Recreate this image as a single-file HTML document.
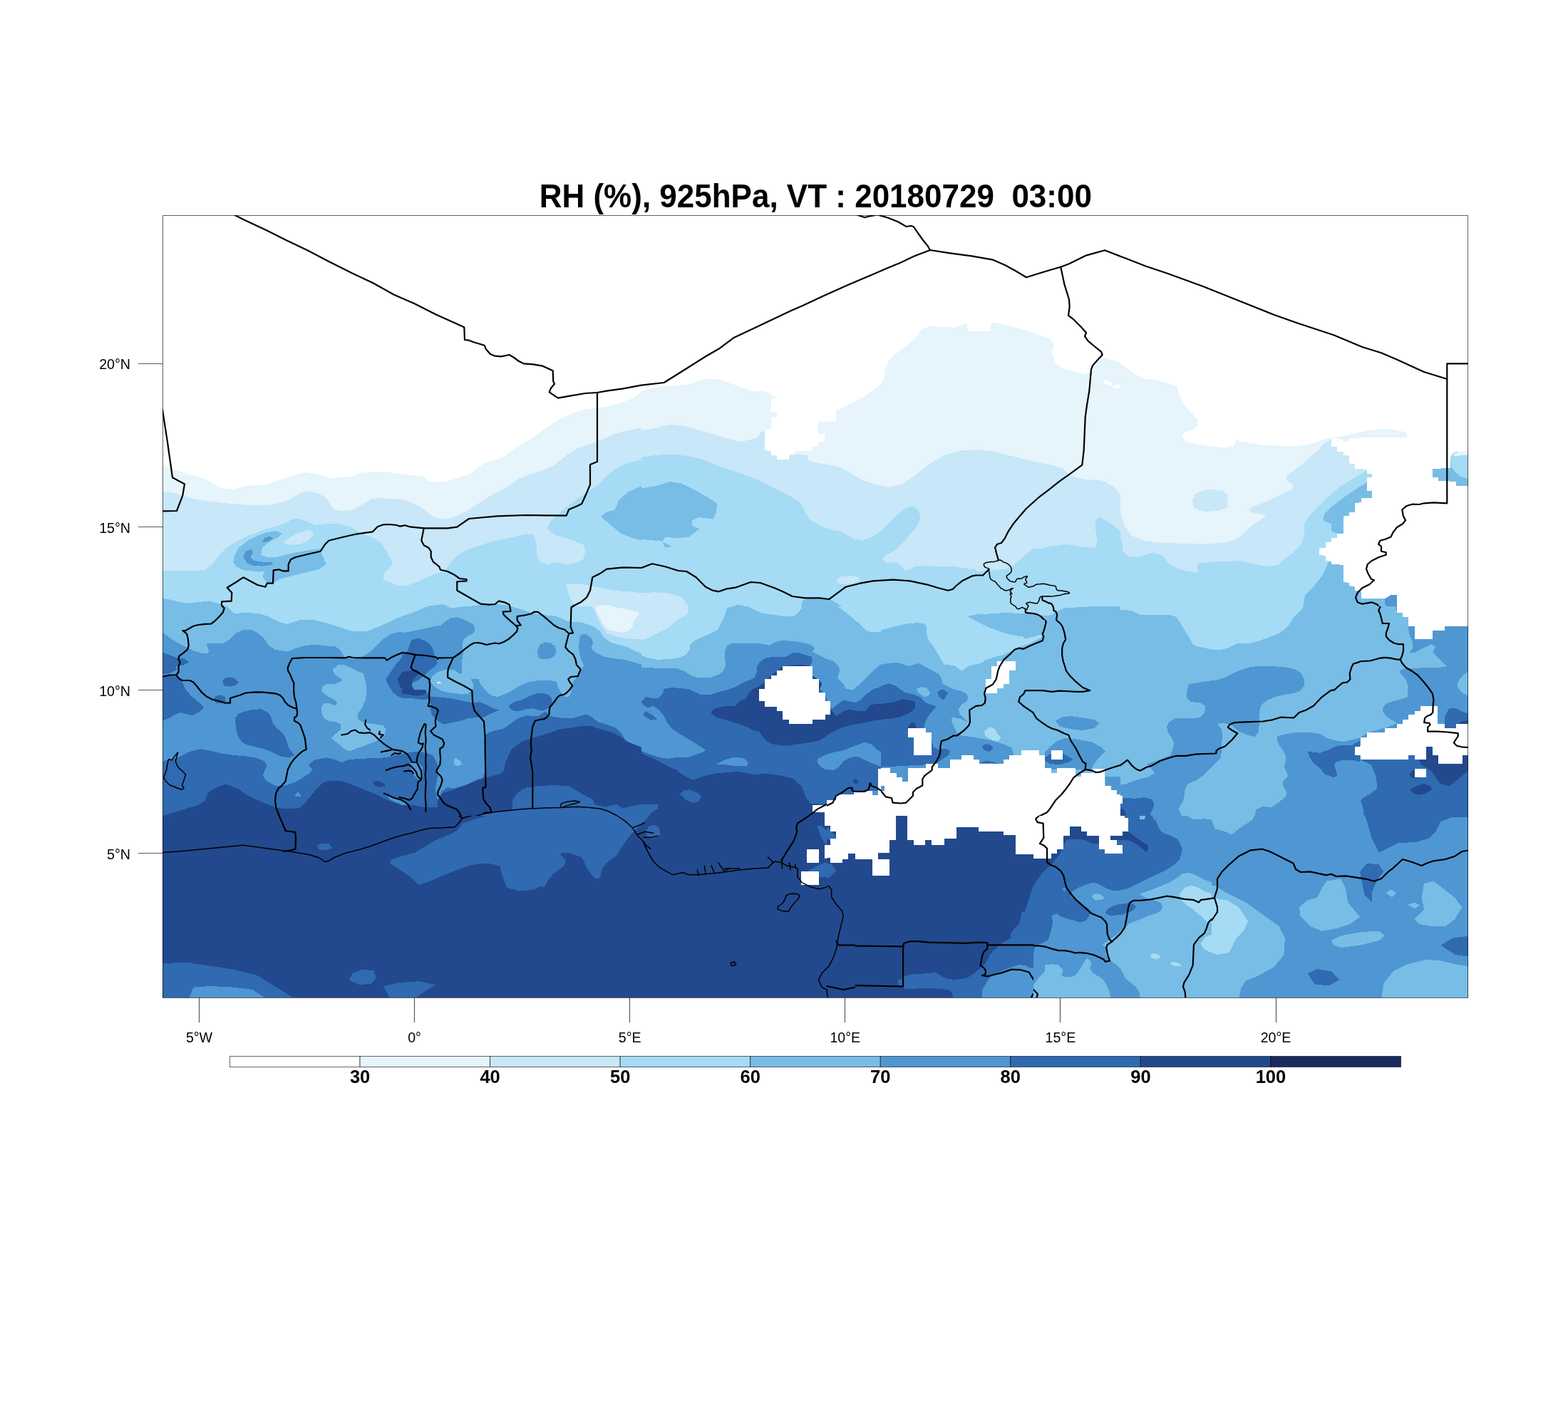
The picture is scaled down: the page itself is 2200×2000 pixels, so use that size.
<!DOCTYPE html>
<html><head><meta charset="utf-8"><style>
html,body{margin:0;padding:0;background:#fff;}
svg{display:block;}
text{font-family:"Liberation Sans",Arial,sans-serif;fill:#000;}
.yl{font-size:19.6px;text-anchor:end;}
.xl{font-size:19.6px;text-anchor:middle;}
.cl{font-size:25.5px;font-weight:bold;text-anchor:middle;}
.ti{font-size:44px;font-weight:bold;text-anchor:middle;white-space:pre;}
.tk{stroke:#000;stroke-opacity:0.65;stroke-width:1.2;}
.bd polyline{fill:none;stroke:#000;stroke-width:2.2;stroke-linejoin:round;stroke-linecap:round;}
.bd polyline.lk{stroke-width:2.1;}
.bd polyline.t{stroke-width:1.5;}
</style></head><body>
<svg width="2200" height="2000" viewBox="0 0 2200 2000" xmlns="http://www.w3.org/2000/svg">
<defs><clipPath id="c0"><rect x="228" y="302" width="672" height="549"/></clipPath><clipPath id="l0"><path clip-rule="evenodd" d="M228,302H900V851H228Z"/></clipPath><clipPath id="c1"><rect x="900" y="302" width="672" height="549"/></clipPath><clipPath id="l1"><path clip-rule="evenodd" d="M900,302H1572V851H900ZM1370,770H1510V851H1370Z"/></clipPath><clipPath id="c2"><rect x="1572" y="302" width="488" height="549"/></clipPath><clipPath id="l2"><path clip-rule="evenodd" d="M1572,302H2060V851H1572Z"/></clipPath><clipPath id="c3"><rect x="228" y="1145" width="672" height="255"/></clipPath><clipPath id="l3"><path clip-rule="evenodd" d="M228,1145H900V1400H228ZM760,1145H900V1300H760Z"/></clipPath><clipPath id="c4"><rect x="228" y="851" width="336" height="294"/></clipPath><clipPath id="l4"><path clip-rule="evenodd" d="M228,851H564V1145H228Z"/></clipPath><clipPath id="c5"><rect x="564" y="851" width="336" height="294"/></clipPath><clipPath id="l5"><path clip-rule="evenodd" d="M564,851H900V1145H564ZM760,1080H900V1145H760Z"/></clipPath><clipPath id="c6"><rect x="900" y="1145" width="672" height="255"/></clipPath><clipPath id="l6"><path clip-rule="evenodd" d="M900,1145H1572V1400H900ZM1450,1150H1572V1400H1450ZM1200,1280H1450V1400H1200ZM900,1145H1160V1300H900Z"/></clipPath><clipPath id="c7"><rect x="900" y="851" width="336" height="294"/></clipPath><clipPath id="l7"><path clip-rule="evenodd" d="M900,851H1236V1145H900ZM900,1080H1160V1145H900Z"/></clipPath><clipPath id="c8"><rect x="1236" y="851" width="336" height="294"/></clipPath><clipPath id="l8"><path clip-rule="evenodd" d="M1236,851H1572V1145H1236ZM1370,851H1510V870H1370Z"/></clipPath><clipPath id="c9"><rect x="1572" y="1145" width="488" height="255"/></clipPath><clipPath id="l9"><path clip-rule="evenodd" d="M1572,1145H2060V1400H1572ZM1572,1150H1700V1400H1572Z"/></clipPath><clipPath id="c10"><rect x="1572" y="851" width="336" height="294"/></clipPath><clipPath id="l10"><path clip-rule="evenodd" d="M1572,851H1908V1145H1572Z"/></clipPath><clipPath id="c11"><rect x="1908" y="851" width="152" height="294"/></clipPath><clipPath id="l11"><path clip-rule="evenodd" d="M1908,851H2060V1145H1908Z"/></clipPath><clipPath id="c12"><rect x="1450" y="1150" width="250" height="250"/></clipPath><clipPath id="l12"><path clip-rule="evenodd" d="M1450,1150H1700V1400H1450Z"/></clipPath><clipPath id="c13"><rect x="1200" y="1280" width="250" height="120"/></clipPath><clipPath id="l13"><path clip-rule="evenodd" d="M1200,1280H1450V1400H1200Z"/></clipPath><clipPath id="c14"><rect x="440" y="940" width="200" height="200"/></clipPath><clipPath id="l14"><path clip-rule="evenodd" d="M440,940H640V1140H440Z"/></clipPath><clipPath id="c15"><rect x="760" y="1080" width="400" height="220"/></clipPath><clipPath id="l15"><path clip-rule="evenodd" d="M760,1080H1160V1300H760Z"/></clipPath><clipPath id="c16"><rect x="1370" y="770" width="140" height="100"/></clipPath><clipPath id="l16"><path clip-rule="evenodd" d="M1370,770H1510V870H1370Z"/></clipPath></defs>
<rect width="2200" height="2000" fill="#fff"/>
<g shape-rendering="crispEdges"><g clip-path="url(#c0)"><polygon fill="#ffffff" points="211.3,285.3 928,285.3 928,935.3 211.3,935.3"/><polygon fill="#e6f4fb" points="211.3,653.7 228,653.7 241.3,658 254.7,662 268,667 286.3,671.3 298,678.7 311.3,685.3 324.7,687 341.3,683 354.7,681.3 371.3,680.3 388,675.3 408,668.7 428,662.7 444.7,665.3 461.3,670.7 481.3,670.3 494.7,668.7 504.7,663.7 521.3,662 544.7,662.7 561.3,665.3 578,667 598,670 599.7,675.3 614.7,677.3 628,675.3 641.3,671.3 658,666 668,658 681.3,649.3 694.7,645.3 708,640.7 721.3,630.3 738,620.3 751.3,612 764.7,602 781.3,590.3 794.7,583.7 811.3,577 828,573.7 848,571.3 868,567 888,558.7 900,550.3 928,535.3 928,935.3 211.3,935.3"/><polygon fill="#c8e7f8" points="211.3,691.3 228,691.3 241.3,691.3 254.7,694.7 264.7,698.7 274.7,700.7 294.7,703.7 314.7,706 334.7,708 361.3,709.3 378,708.7 394.7,705.3 408,700.3 421.3,692 431.3,689.3 444.7,692 458,698.7 463,707 468,715.3 481.3,717 494.7,715.3 508,708.7 521.3,700.3 534.7,699.3 554.7,700.3 568,702 581.3,707 594.7,715.3 608,725.3 621.3,728.7 631.3,728 644.7,722 661.3,713.7 678,702 694.7,692 711.3,683.7 728,672 744.7,665.3 761.3,660.3 778,652.7 794.7,638.7 811.3,628.7 831.3,622 848,615.3 868,607 884.7,603.7 900,600.3 928,598.7 928,935.3 211.3,935.3"/><polygon fill="#a5dbf5" points="211.3,802 248,801 268,801 286.3,800.3 298,792 308,778.7 318,768.7 331.3,760.3 348,752 361.3,747 374.7,742 388,738.7 401.3,733.7 409.7,728.7 419.7,728 431.3,732 441.3,737 458,735.3 474.7,734.7 491.3,739.3 501.3,746 511.3,750.3 524.7,755.3 534.7,762 543,775.3 551.3,790.3 544.7,798.7 538,805.3 538,813.7 548,817 558,822 571.3,822 584.7,817 598,810.3 611.3,805.3 621.3,802 628,795.3 634.7,787 641.3,780.3 654.7,772 674.7,765.3 694.7,758.7 714.7,755.3 734.7,750.3 748,750.3 753,762 753,778.7 758,788.7 768,792 778,788.7 794.7,792 808,790.3 818,785.3 821.3,775.3 819.7,765.3 808,760.3 794.7,755.3 778,750.3 768,742 771.3,733.7 781.3,723.7 794.7,712 809.7,700.3 824.7,690.3 841.3,678.7 854.7,665.3 868,655.3 884.7,648.7 900,645.3 928,643.7 928,935.3 211.3,935.3"/><polygon fill="#c8e7f8" points="398,760.3 408,753.7 421.3,747 431.3,743.7 438,745.3 439.7,752 433,758.7 421.3,763.7 408,764.7 398.7,762.7"/><polygon fill="#78bde6" points="328,782 334.7,768.7 348,758.7 361.3,752 374.7,747 388,745.3 396.3,748.7 391.3,753.7 378,760.3 368,768.7 366.3,778.7 374.7,782 388,782 401.3,778.7 414.7,775.3 431.3,772.7 448,770.3 458,792 448,798.7 434.7,802 414.7,807 394.7,812 384.7,817 374.7,818.7 368,808.7 371.3,802 361.3,802 341.3,800.3 331.3,795.3 327.3,788.7"/><polygon fill="#4f97d2" points="341.3,782 344.7,773.7 353,770.3 354.7,775.3 351.3,782 356.3,787 368,788.7 381.3,788.7 383,792.7 368,794.7 354.7,793.7 346.3,790.3"/><polygon fill="#4f97d2" points="368,760.3 371.3,755.3 378,752.7 383,755.3 378,759.3 369.7,761.3"/><polygon fill="#78bde6" points="928,678.7 900,682 881.3,690.3 868,702 863,715.3 851.3,718.7 843,724.7 854.7,735.3 871.3,748.7 888,755.3 900,758.7 928,762"/><polygon fill="#c8e7f8" points="794.7,820.3 811.3,818.7 828,822 844.7,825.3 861.3,828.7 881.3,830.3 900,832 928,832 928,892 900,890.3 888,892 871.3,892 854.7,888.7 841.3,883.7 828,875.3 814.7,862 804.7,848.7 798,835.3"/><polygon fill="#e6f4fb" points="836.3,850.3 851.3,848.7 868,852 884.7,855.3 891.3,865.3 886.3,873.7 874.7,875.3 854.7,873.7 846.3,865.3 839.7,857"/><polygon fill="#78bde6" points="211.3,838.7 228,839.3 261.3,846.7 294.7,843.3 314.7,850 328,860 361.3,862 394.7,865.3 428,868.7 461.3,868.7 494.7,870.3 521.3,870 544.7,868.7 561.3,868 581.3,859.3 600,850.7 620,848.3 640,853.3 660,850.7 680,848 700,848.3 714.7,850 728,855 748,858.3 768,863.3 788,870 801.3,873.3 801.3,935.3 211.3,935.3"/></g><g clip-path="url(#c1)"><polygon fill="#ffffff" points="883.3,285.3 1600,285.3 1600,935.3 883.3,935.3"/><polygon fill="#e6f4fb" points="883.3,549.3 900,549.3 913.3,545.3 933.3,542 950,541.3 966.7,539.3 983.3,533.7 996.7,531.3 1013.3,533.7 1026.7,538.7 1040,543.7 1056.7,549.3 1070,548.7 1080,552.7 1090,558.7 1116.7,557 1150,555.3 1166.7,565.3 1173.3,577 1190,568.7 1206.7,560.3 1220,551.3 1233.3,542 1240,532 1241.7,518.7 1246.7,507 1256.7,497 1270,487 1283.3,475.3 1293.3,462 1303.3,458 1320,458.7 1340,459.7 1356.7,453.7 1358.3,465.3 1390,465.3 1390.7,452 1410,456 1433.3,462 1453.3,468.7 1473.3,475.3 1478.3,483.7 1476,493.7 1480,508.7 1490,517 1506.7,521.3 1523.3,525.3 1531.7,522 1540,507 1550,502 1572,508.7 1600,512 1600,935.3 883.3,935.3"/><polygon fill="#c8e7f8" points="883.3,603.7 900,603.7 916.7,602 930,598 943.3,596 960,598 980,603.7 1000,609.3 1020,615.3 1040,620.3 1053.3,617 1063.3,613.7 1066.7,607 1073.3,603.7 1086.7,635.3 1133.3,638.7 1133.3,645.3 1140,648.7 1160,652 1176.7,655.3 1193.3,663.7 1206.7,672 1223.3,678.7 1246.7,683.7 1263.3,680.3 1280,670.3 1296.7,657 1313.3,645.3 1330,637 1350,632 1373.3,631.3 1393.3,633.7 1413.3,638.7 1433.3,643.7 1453.3,648.7 1473.3,652 1490,657 1500,666.3 1518.7,672.3 1547,674.7 1563.3,683 1571.7,694.7 1573.3,715.3 1600,768.7 1600,935.3 883.3,935.3"/><polygon fill="#a5dbf5" points="883.3,642 900,642 916.7,639.3 933.3,638 950,638 966.7,640.3 986.7,645.3 1006.7,653.7 1026.7,660.3 1046.7,667 1066.7,675.3 1086.7,685.3 1106.7,695.3 1123.3,705.3 1130,718.7 1136.7,730.3 1153.3,738.7 1166.7,743.7 1180,745.3 1190,752 1200,757 1210,758 1223.3,753.7 1236.7,745.3 1246.7,735.3 1260,722 1270,713.7 1280,710.3 1288.3,715.3 1291.7,727 1286.7,738.7 1276.7,750.3 1266.7,762 1256.7,772 1243.3,778.7 1238.3,785.3 1243.3,790.3 1256.7,788.7 1266.7,795.3 1270,802 1283.3,795.3 1300,793.7 1320,795.3 1340,795.3 1360,798.7 1380,800.3 1400,798.7 1420,795.3 1433.3,782 1453.3,772 1473.3,767 1496.7,763.7 1520,768 1536.7,768.7 1540,758.7 1536.7,742 1536.7,732 1541.7,725.3 1553.3,732 1563.3,738.7 1572,745.3 1600,748.7 1600,935.3 883.3,935.3"/><polygon fill="#78bde6" points="883.3,685.3 900,685.3 920,682 940,676 956.7,678.7 976.7,688.7 996.7,700.3 1006,707 1005,718.7 1000,728.7 981.7,726 970.7,730.3 971.7,738.7 981.7,742 966.7,753.7 950,755.3 933.3,753.7 929.3,760.3 933.3,768.7 943.3,767 926.7,759.3 900,757 883.3,757"/><polygon fill="#c8e7f8" points="1173.3,813.7 1180,809.3 1193.3,808 1205,810.3 1206.7,815.3 1196.7,818.7 1183.3,820.3 1175,818"/><polygon fill="#c8e7f8" points="883.3,832 900,832 920,831.3 940,832.7 956.7,838.7 965,848.7 965,862 956.7,872 940,882 920,890.3 900,895.3 883.3,895.3"/><polygon fill="#78bde6" points="1016.7,935.3 1020,852 1036.7,848.7 1050,852 1066.7,857 1086.7,862 1106.7,865.3 1120,862 1126.7,842 1140,840.3 1166.7,842 1183.3,852 1193.3,862 1203.3,872 1213.3,885.3 1233.3,885.3 1253.3,880.3 1273.3,875.3 1290,875.3 1300,878.7 1303.3,895.3 1310,935.3"/><polygon fill="#78bde6" points="1356.7,865.3 1373.3,862 1400,860.3 1433.3,860.3 1466.7,860.3 1486.7,857 1600,852 1600,935.3 1433.3,935.3 1433.3,895.3 1400,888.7 1373.3,875.3"/><polygon fill="#ffffff" points="1090,558.7 1081.7,560.3 1081.7,578.7 1090,579.3 1090,584.7 1081.7,585.3 1081.7,602 1073.3,603 1073.3,632 1081.7,633 1081.7,638.7 1090,638.7 1090,645.3 1106.7,645.3 1106.7,638.7 1115,638 1115,633 1140,633 1140,627 1148.3,627 1148.3,621.3 1156.7,620.3 1156.7,609.3 1148.3,608.7 1148.3,592 1173.3,591.3 1173.3,577 1166.7,565.3 1150,555.3 1116.7,555.3"/><polygon fill="#ffffff" points="1546.7,537 1550,532.7 1560,537 1559.3,541.3 1551.7,539.3"/><polygon fill="#ffffff" points="1561.7,542.7 1566.7,540.3 1600,539.3 1600,544.7 1563.3,544.7"/></g><g clip-path="url(#c2)"><polygon fill="#ffffff" points="1371.3,285.3 2088,285.3 2088,935.3 1371.3,935.3"/><polygon fill="#e6f4fb" points="1371.3,452 1391.3,452 1414.7,456 1438,461.3 1461.3,470.3 1476.3,477 1476.3,495.3 1481.3,510.3 1494.7,517 1514.7,520.3 1528,525.3 1533.3,515.3 1544.7,505.3 1554.7,502.7 1561.3,505.3 1574.7,512 1588,522 1604.7,532 1621.3,532.7 1641.3,538.7 1651.3,542 1654.7,555.3 1661.3,568.7 1671.3,578.7 1679.7,588.7 1679.7,598.7 1671.3,603.7 1661.3,607 1658,613.7 1664.7,620.3 1681.3,623.7 1701.3,627 1721.3,628 1731.3,625.3 1734.7,617 1741.3,620.3 1754.7,622 1771.3,624.7 1804.7,626 1831.3,625.3 1848,620.3 1861.3,615.3 1888,612 1904.7,608 1921.3,603.7 1938,602 1954.7,602.7 1973,607 1974.7,613.7 2088,613.7 2088,935.3 1371.3,935.3"/><polygon fill="#c8e7f8" points="1371.3,632 1388,632 1421.3,642 1454.7,648.7 1488,655.3 1506.7,665.3 1528,672 1548,675.3 1561.3,682 1569.7,692 1571.3,708.7 1573,725.3 1578,738.7 1588,752 1604.7,758.7 1621.3,761.3 1654.7,762.7 1688,763.7 1714.7,762 1734.7,757 1744.7,748.7 1754.7,738.7 1768,730.3 1776.3,723.7 1768,721.3 1754.7,718.7 1753,713.7 1764.7,708.7 1781.3,702 1798,693.7 1813,687 1814.7,680.3 1806.3,675.3 1804.7,668.7 1813,662 1824.7,653.7 1834.7,645.3 1841.3,638.7 1849.7,632 1854.7,625.3 1861.3,620.3 1868,617 2088,617 2088,935.3 1371.3,935.3"/><polygon fill="#c8e7f8" points="1673,702 1678,692 1694.7,687 1714.7,688 1723,695.3 1721.3,705.3 1723,712 1708,717 1688,718 1674.7,712"/><polygon fill="#a5dbf5" points="1371.3,822 1398,802 1421.3,785.3 1438,772 1454.7,765.3 1474.7,762.7 1488,765.3 1504.7,768.7 1521.3,772 1534.7,768.7 1541.3,762 1538,745.3 1536.3,732 1541.3,725.3 1551.3,730.3 1561.3,738.7 1569.7,750.3 1574.7,762 1574.7,772 1581.3,780.3 1594.7,782 1608,778.7 1618,775.3 1631.3,780.3 1641.3,792 1654.7,798.7 1668,802 1681.3,803.7 1679.7,795.3 1681.3,790.3 1701.3,788.7 1721.3,788 1741.3,787 1761.3,792 1781.3,795.3 1794.7,792 1801.3,785.3 1814.7,775.3 1824.7,765.3 1829.7,752 1829.7,735.3 1838,722 1848,712 1858,702 1868,693.7 1881.3,682 1898,672 1911.3,663.7 1921.3,658.7 2088,658.7 2088,935.3 1371.3,935.3"/><polygon fill="#78bde6" points="1925.3,670.3 1918,677 1901.3,687 1884.7,698.7 1869.7,710.3 1858,722 1856.3,730.3 1868,735.3 1868,745.3 1876.3,748.7 1884.7,748.7 1884.7,724.7 1893,723.7 1901.3,718.7 1909.7,705.3 1925.3,698.7"/><polygon fill="#78bde6" points="1371.3,865.3 1388,862 1421.3,858.7 1454.7,857 1484.7,853.7 1504.7,852 1538,852 1571.3,855.3 1604.7,858.7 1641.3,862 1654.7,868.7 1664.7,888.7 1671.3,902 1678,935.3 1798,935.3 1804.7,898.7 1814.7,868.7 1828,852 1831.3,835.3 1841.3,825.3 1854.7,808.7 1861.3,795.3 1864.7,787 1868,782 2088,782 2088,935.3 1371.3,935.3"/><polygon fill="#4f97d2" points="1943,848.7 1943,840.3 1951.3,835.3 1959.7,835.3 1959.7,855.3 1951.3,855.3"/><polygon fill="#ffffff" points="1868,615.3 1888,612.7 1921.3,612 1951.3,613.7 1974.7,613.7 2088,613.7 2088,878.7 2034.7,878.7 2026.3,880.3 2026.3,885.3 2009.7,885.3 2009.7,897 1984.7,897 1984.7,880.3 1976.3,878.7 1976.3,865.3 1968,865.3 1968,857 1959.7,855.3 1959.7,835.3 1951.3,835.3 1943,840.3 1909.7,840.3 1909.7,830.3 1901.3,828.7 1901.3,823.7 1893,822 1893,818 1884.7,817 1884.7,792.7 1868,792 1868,788 1859.7,787 1859.7,780.3 1851.3,778.7 1851.3,769.3 1859.7,768.7 1859.7,761.3 1868,761.3 1868,755.3 1876.3,754.7 1876.3,748.7 1884.7,748.7 1884.7,724.7 1893,723.7 1893,718.7 1901.3,718.7 1901.3,706 1909.7,705.3 1909.7,698.7 1925.3,698.7 1925.3,688.7 1918,688.7 1918,670.3 1925.3,670.3 1925.3,665.3 1918,664.7 1918,658.7 1901.3,658 1901.3,651.3 1893,650.3 1893,638.7 1884.7,638.7 1884.7,633.7 1876.3,633.7 1876.3,627 1868,627"/><polygon fill="#e6f4fb" points="1868,614.7 1888,611.3 1904.7,607.3 1921.3,603.7 1938,602 1954.7,602.7 1973,607 1951.3,610.3 1951.3,613.7 1921.3,613.7 1893,615.3 1893,619.3 1884.7,620.3 1884.7,617"/><polygon fill="#78bde6" points="2009.7,663.7 2009.7,658 2034.7,657 2034.7,640.3 2043,633.7 2088,633 2088,682 2043,682 2043,676 2030.3,675.3 2018,675.3 2018,670.3 2009.7,670.3"/><polygon fill="#a5dbf5" points="2034.7,640.3 2043,634.7 2088,634 2088,675.3 2060,672 2049.7,668.7 2041.3,662 2036.3,655.3"/><polygon fill="#e6f4fb" points="2043,634.7 2060,633 2088,633 2088,639.3 2060,638.7 2038,640.3"/></g><g clip-path="url(#c3)"><polygon fill="#22498d" points="224.7,785.7 904.7,785.7 904.7,1402.3 224.7,1402.3"/><polygon fill="#306ab1" points="548,1207.3 561.3,1202.3 581.3,1197.3 594.7,1189 611.3,1179 628,1172.3 641.3,1165.7 648.7,1155.7 668,1149 688,1144 711.3,1140.7 744.7,1139 778,1137.3 811.3,1135.7 844.7,1137.3 868,1139 904.7,1139 904.7,1202.3 881.3,1195.7 861.3,1197.3 848,1209 844.7,1222.3 838,1232.3 831.3,1225.7 824.7,1209 814.7,1200.7 801.3,1197.3 791.3,1204 794.7,1212.3 791.3,1219 781.3,1229 768,1239 748,1249 728,1250.7 711.3,1245.7 704.7,1229 701.3,1215.7 688,1212.3 671.3,1212.3 654.7,1215.7 638,1222.3 621.3,1229 601.3,1237.3 588,1242.3 578,1232.3 561.3,1220.7 548,1212.3"/><polygon fill="#306ab1" points="444.7,1187.3 449.7,1184 461.3,1184 466.3,1190.7 458,1193 448,1192.3"/><polygon fill="#306ab1" points="224.7,1352.3 261.3,1350.7 294.7,1355.7 328,1360.7 361.3,1369 371.3,1375.7 388,1385.7 414.7,1402.3 224.7,1402.3"/><polygon fill="#4f97d2" points="264.7,1402.3 271.3,1385.7 294.7,1384 328,1385.7 354.7,1389 374.7,1402.3"/><polygon fill="#306ab1" points="489.7,1375.7 494.7,1365.7 508,1360.7 524.7,1362.3 528,1372.3 521.3,1380.7 504.7,1382.3"/><polygon fill="#306ab1" points="538,1384 561.3,1379 588,1377.3 611.3,1382.3 594.7,1392.3 581.3,1402.3 548,1402.3"/></g><g clip-path="url(#c4)"><polygon fill="#78bde6" points="226.3,838.3 566.3,838.3 566.3,1146.7 226.3,1146.7"/><polygon fill="#a5dbf5" points="226.3,838.3 566.3,838.3 566.3,864.2 556.8,867.8 536.2,877.5 513.8,886.5 494.3,885.8 480.7,881.7 459.7,874.7 438.8,869.8 422.2,869.8 402.8,875.8 394.3,874 376.3,865 362.5,860.8 344.3,860.2 327.8,860.8 313.8,845.7 308,843.3 294.7,841.7 278,845 261.3,848 253,847.5 244.7,846.3 236.3,845 226.3,845"/><polygon fill="#4f97d2" points="226.3,886.7 231.3,890 241.3,897.5 251.3,903.3 261.3,908.3 271.3,913.3 283,916.7 291.3,917.5 293,913.3 289.7,903.3 298,903.3 313,903.3 323,896.7 331.3,888.3 343,883.7 353,884.2 361.3,888.3 369.7,895 378,906.7 386.3,911.7 394.7,913.3 404.7,914.2 414.7,910 428,905.8 444.7,905 461.3,906.7 471.3,907.5 478,913.3 483,921.7 494.7,925 503,923.3 511.3,920 521.3,913.3 528,906.7 538,896.7 548,890 558,887.5 566.3,886.7 566.3,1146.7 226.3,1146.7"/><polygon fill="#306ab1" points="226.3,915 238,919.2 248,923.3 258,924.2 265.5,929.2 256.3,934.2 246.3,934.7 248,940 238,945 226.3,946.7"/><polygon fill="#306ab1" points="226.3,950 238,948.3 248,950 255.5,956.7 259.7,966.7 268,976.7 278,985 284.7,990.8 284.7,995 278,1000 269.7,1004.2 259.7,1001.7 253,1000 244.7,1003.3 236.3,1008.3 226.3,1012.5"/><polygon fill="#306ab1" points="312.2,956.7 314.7,952.5 322.2,950.3 329.7,952 334.7,957.5 331.3,961.7 323,963.7 314.7,962.5"/><polygon fill="#306ab1" points="299.7,981.7 303,976.7 309.7,975.3 315.5,978.3 316.3,985 309.7,987.5 302.2,986.3"/><polygon fill="#306ab1" points="329.7,1008.3 334.7,1001.7 344.7,998.3 354.7,995.8 366.3,995.3 374.7,999.2 379.7,1005 383,1015 388,1021.7 394.7,1026.7 399.7,1033.3 402.2,1040 404.7,1048.3 408,1053.3 413,1060 404.7,1063.3 394.7,1061.7 386.3,1058.3 378,1054.2 369.7,1050.8 358,1048.3 348,1045.8 339.7,1041.7 333.8,1033.3 331.3,1023.3 330.5,1015"/><polygon fill="#306ab1" points="566.3,920 554.7,933.3 548,943.3 541.3,953.3 544.7,961.7 551.3,971.7 559.7,978.3 566.3,979.2"/><polygon fill="#22498d" points="566.3,940 558,953.3 561.3,963.3 566.3,969.2"/><polygon fill="#306ab1" points="226.3,1068.3 238,1066.7 253,1061.7 266.3,1055 281.3,1051.3 294.7,1053.3 311.3,1057.5 328,1060 348,1061.7 361.3,1064.2 371.3,1068.3 374.7,1075 371.3,1081.7 368.8,1088.3 373,1095 381.3,1100 388,1103.3 394.7,1103.3 403,1101.7 414.7,1097.5 424.7,1091.7 434.7,1085 438,1080 433,1073.3 441.3,1066.7 458,1063.3 471.3,1066.7 479.7,1070 488,1066.7 501.3,1065 521.3,1064.2 541.3,1063.3 554.7,1060 566.3,1058.3 566.3,1146.7 226.3,1146.7"/><polygon fill="#22498d" points="226.3,1145.8 244.7,1140 261.3,1135 278,1130 288,1123.3 291.3,1113.3 298,1108.3 308,1103.3 316.3,1100.8 324.7,1103.3 336.3,1108.3 344.7,1115 354.7,1120 366.3,1125 378,1130 386.3,1133.3 398,1135 411.3,1135 421.3,1133.3 428,1126.7 436.3,1116.7 444.7,1106.7 451.3,1100 458,1096.7 469.7,1095.8 481.3,1096.7 494.7,1101.7 511.3,1108.3 528,1115 544.7,1123.3 554.7,1126.7 566.3,1128.3 566.3,1146.7 226.3,1146.7"/><polygon fill="#4f97d2" points="413.8,1115.8 418,1111.7 421.3,1115 422.2,1117.5 414.7,1117.5"/><polygon fill="#22498d" points="523,1097.5 529.7,1095.8 536.3,1098.3 541.3,1103.3 533,1105 526.3,1102.5"/><polygon fill="#78bde6" points="466.3,940 474.7,933.3 481.3,932.5 491.3,936.7 501.3,941.7 509.7,945 513,956.7 514.7,970 513,981.7 508,993.3 503,1000 501.3,1008.3 508,1013.3 518,1015 528,1016.7 538,1018.3 541.3,1023.3 539.7,1031.7 534.7,1036.7 528,1040 519.7,1043.3 511.3,1046.7 501.3,1050 491.3,1054.2 484.7,1052.5 478,1046.7 469.7,1040 464.7,1035 473,1028.3 478,1023.3 478,1016.7 471.3,1013.3 461.3,1011.7 454.7,1008.3 451.3,1001.7 451.3,991.7 454.7,986.7 461.3,986.7 469.7,990 473,988.3 471.3,983.3 464.7,980 456.3,975 451.3,970 452.2,963.3 458,960 468,960 478,956.7 479.7,953.3 474.7,950 469.7,946.7"/></g><g clip-path="url(#c5)"><polygon fill="#4f97d2" points="562.3,838.3 902.3,838.3 902.3,1146.7 562.3,1146.7"/><polygon fill="#78bde6" points="562.3,865 569,863.3 580.7,859.2 592.3,854.2 604,849.2 614,848.3 625.7,851.3 634,853.3 644,852 657.3,850 670.7,849.2 680.7,848.3 697.3,846.7 714,850 730.7,855 740.7,858.3 747.3,860.8 764,863.3 777.3,864.2 789,868.3 800.7,873.3 810.7,872.5 820.7,875 825.7,876.7 834,880 842.3,886.7 847.3,895 857.3,901.7 869,905 880.7,908.3 890.7,913.3 902.3,918.3 902.3,933.3 885.7,928.3 872.3,925 860.7,924.2 847.3,921.7 837.3,916.7 829,910 830.7,906.7 832.3,901.7 829,895 822.3,890 814,890.8 812.3,903.3 812.3,911.7 814,923.3 819,933.3 815.7,941.7 810.7,950 804,956.7 802.3,966.7 800.7,973.3 797.3,978.3 792.3,978.3 785.7,970 782.3,961.7 780.7,956.7 772.3,955 755.7,955 740.7,957.5 730.7,961.7 722.3,966.7 714,971.7 704,975.8 697.3,978.3 689,975.8 680.7,968.3 674,960 671.5,953.3 660.7,953.3 664,960 664,966.7 657.3,973.3 650.7,974.2 639,973.3 627.3,971.7 620.7,970 614,966.7 607.3,961.7 604,956.7 605.7,950 612.3,944.2 620.7,940.8 630.7,939.7 637.3,940 642.3,944.2 647.3,946.7 648.2,940 648.2,928.3 649.8,916.7 649,906.7 649.8,897.5 655.7,893.3 662.3,890 665.7,886.7 666.5,880 662.3,875 650.7,869.2 640.7,866.3 632.3,867.5 624,872.5 619,877.5 605.7,880 589,883.7 574,886.7 562.3,888.3"/><polygon fill="#a5dbf5" points="562.3,838.3 902.3,838.3 902.3,918.3 890.7,913.3 880.7,908.3 869,905 857.3,901.7 847.3,895 842.3,886.7 834,880 825.7,876.7 820.7,875 810.7,872.5 800.7,873.3 789,868.3 777.3,864.2 764,863.3 747.3,860.8 740.7,858.3 730.7,855 714,850 697.3,846.7 680.7,848.3 670.7,849.2 657.3,850 644,852 634,853.3 625.7,851.3 614,848.3 604,849.2 592.3,854.2 580.7,859.2 569,863.3 562.3,865"/><polygon fill="#c8e7f8" points="824,838.3 827.3,848.3 834,856.7 839,868.3 844,878.3 850.7,888.3 864,893.3 877.3,895.8 889,896.7 902.3,897.5 902.3,838.3"/><polygon fill="#e6f4fb" points="835.7,853.3 844,849.2 857.3,851.7 872.3,853.3 885.7,856.7 897.3,860 893.2,866.7 889,873.3 887.3,880 882.3,885 875.7,887 864,886.3 854,884.2 847.3,878.3 842.3,868.3 837.3,860"/><polygon fill="#4f97d2" points="754,913.3 757.3,905 764,901.3 772.3,902.5 779,906.7 780.7,915 777.3,921.7 769,925 759,925 754.8,921.7"/><polygon fill="#e6f4fb" points="613.2,957.5 616.5,956.7 619.8,958.7 614,959.7"/><polygon fill="#78bde6" points="624,1006.7 627.3,1000 631.5,998.3 633.2,1005 630.7,1010.8 624.8,1010"/><polygon fill="#78bde6" points="636.5,1068.3 639,1063.3 645.7,1068.3 649,1072.5 642.3,1075 637.3,1073.3"/><polygon fill="#306ab1" points="562.3,918.3 570.7,916.7 577.3,898.3 587.3,895.8 597.3,900 604,905 608.2,913.3 610.7,923.3 614,930 610.7,935 604,940 597.3,946.7 589,953.3 579,958.3 577.3,965 579,970 587.3,971.7 597.3,973.3 602.3,973.3 602.3,980 597.3,981.7 589,981.7 577.3,980 562.3,980"/><polygon fill="#22498d" points="562.3,943.3 574,941.7 584,940 589,943.3 585.7,948.3 579,955 577.3,961.7 580.7,967.5 589,968.3 597.3,968.3 599,971.7 594,975.8 584,976.7 574,975 562.3,973.3"/><polygon fill="#306ab1" points="602.3,978.3 614,978.3 630.7,980 647.3,983.3 657.3,985 664,986.7 672.3,985 680.7,988.3 690.7,993.3 700.7,996.7 692.3,1000 684,1004.2 679,1006.7 672.3,1006.7 664,1007.5 655.7,1008.3 647.3,1011.7 639,1013.3 630.7,1015 622.3,1016.7 614,1011.7 605.7,1003.3 604,995 604,985"/><polygon fill="#306ab1" points="714,990 722.3,985 734,981.7 744,976.7 752.3,973.3 760.7,972.5 769,975 774,980 774.8,986.7 770.7,993.3 764,996.7 755.7,996.7 747.3,994.2 739,995 730.7,997.5 722.3,998.3 715.7,995"/><polygon fill="#306ab1" points="680.7,1031.7 687.3,1027.5 695.7,1025 704,1023.3 710.7,1020 717.3,1015 724,1010 730.7,1006.7 739,1004.2 747.3,1005 755.7,1005 760.7,1001.7 764,998.3 767.3,1000 772.3,1005 780.7,1006.7 794,1008.3 804,1008.3 814,1005 822.3,1002.5 830.7,1006.7 839,1013.3 850.7,1016.7 864,1021.7 872.3,1030 877.3,1038.3 887.3,1045 894,1051.7 902.3,1058.3 902.3,1146.7 614,1146.7 614,1123.3 620.7,1110 627.3,1105 635.7,1106.7 647.3,1103.3 657.3,1100 667.3,1095 677.3,1091.7 680.7,1081.7 680.7,1056.7 679,1040"/><polygon fill="#306ab1" points="562.3,1058.3 580.7,1055 597.3,1056.7 607.3,1060 614,1073.3 614,1090 610.7,1106.7 614,1123.3 614,1146.7 562.3,1146.7"/><polygon fill="#22498d" points="562.3,1128 580.7,1130 597.3,1133.3 614,1133.3 614,1146.7 562.3,1146.7"/><polygon fill="#22498d" points="614,1146.7 614,1123.3 620.7,1113.3 630.7,1110 640.7,1106.7 650.7,1103.3 660.7,1099.2 670.7,1095 680.7,1091.7 690.7,1089.2 700.7,1086.7 707.3,1081.7 709,1070 714,1060 717.3,1051.7 724,1046.7 734,1040 744,1036.7 755.7,1033.3 772.3,1028.3 785.7,1023.3 800.7,1021.7 814,1019.2 830.7,1019.2 847.3,1025 860.7,1028.3 872.3,1035 877.3,1040 890.7,1045 902.3,1050 902.3,1146.7"/><polygon fill="#306ab1" points="719,1146.7 719,1123.3 724,1115 732.3,1108.3 740.7,1105 755.7,1103.3 772.3,1103 787.3,1103.3 800.7,1106.7 810.7,1111.7 820.7,1116.7 830.7,1123.3 837.3,1126.7 847.3,1129.2 864,1128.3 880.7,1127 902.3,1126.7 902.3,1146.7"/><polygon fill="#306ab1" points="664,1146.7 680.7,1141.7 697.3,1139.2 719,1137.5 719,1146.7"/></g><g clip-path="url(#c6)"><polygon fill="#22498d" points="896.7,785.7 1576.7,785.7 1576.7,1402.3 896.7,1402.3"/><polygon fill="#306ab1" points="896.7,1152.3 913.3,1154 925,1162.3 923.3,1172.3 913.3,1179 896.7,1179"/><polygon fill="#306ab1" points="1146.7,1159 1163.3,1162.3 1173.3,1175.7 1163.3,1179 1153.3,1172.3"/><polygon fill="#306ab1" points="1148.3,1215.7 1166.7,1212.3 1173.3,1222.3 1163.3,1232.3 1148.3,1232.3"/><polygon fill="#306ab1" points="1576.7,1185.7 1550,1185.7 1526.7,1195.7 1500,1169 1483.3,1192.3 1466.7,1204 1460,1222.3 1450,1242.3 1443.3,1262.3 1436.7,1282.3 1426.7,1302.3 1418.3,1319 1386.7,1322.3 1380,1339 1373.3,1352.3 1333.3,1355.7 1300,1359 1266.7,1364 1266.7,1402.3 1576.7,1402.3"/><polygon fill="#4f97d2" points="1493.3,1219 1510,1212.3 1533.3,1209 1553.3,1205.7 1576.7,1202.3 1576.7,1402.3 1450,1402.3 1446.7,1382.3 1433.3,1369 1420,1362.3 1433.3,1355.7 1466.7,1349 1483.3,1342.3 1473.3,1322.3 1466.7,1309 1473.3,1295.7 1486.7,1289 1506.7,1282.3 1516.7,1269 1506.7,1255.7 1493.3,1242.3 1490,1229"/><polygon fill="#78bde6" points="1446.7,1362.3 1466.7,1355.7 1493.3,1352.3 1516.7,1362.3 1533.3,1349 1550,1339 1576.7,1335.7 1576.7,1402.3 1450,1402.3"/><polygon fill="#ffffff" points="1140,1129 1173.3,1129 1173.3,1115.7 1233.3,1115.7 1233.3,1079 1250,1079 1258.3,1090.7 1266.7,1095.7 1273.3,1079 1300,1072.3 1316.7,1072.3 1333.3,1065.7 1350,1060.7 1366.7,1065.7 1400,1065.7 1416.7,1060.7 1433.3,1054 1466.7,1054 1466.7,1079 1500,1079 1513.3,1085.7 1533.3,1079 1550,1079 1550,1102.3 1558.3,1109 1576.7,1129 1576.7,1185.7 1550,1185.7 1550,1195.7 1526.7,1195.7 1526.7,1175.7 1516.7,1175.7 1516.7,1169 1500,1169 1500,1160.7 1483.3,1160.7 1483.3,1192.3 1466.7,1192.3 1466.7,1204 1450,1204 1450,1199 1425,1199 1425,1172.3 1408.3,1172.3 1408.3,1167.3 1373.3,1167.3 1373.3,1160.7 1341.7,1160.7 1341.7,1177.3 1325,1177.3 1325,1185.7 1306.7,1185.7 1306.7,1179 1298.3,1179 1298.3,1185.7 1281.7,1185.7 1281.7,1179 1273.3,1179 1273.3,1140.7 1256.7,1140.7 1256.7,1179 1248.3,1179 1248.3,1197.3 1231.7,1197.3 1231.7,1205.7 1200,1205.7 1200,1198.3 1190,1198.3 1190,1205.7 1181.7,1205.7 1181.7,1210.7 1165,1210.7 1165,1204 1156.7,1204 1156.7,1185.7 1165,1185.7 1165,1177.3 1173.3,1177.3 1173.3,1167.3 1165,1167.3 1165,1159 1156.7,1159 1156.7,1142.3 1140,1142.3"/><polygon fill="#ffffff" points="1131.7,1192.3 1148.3,1192.3 1148.3,1210.7 1131.7,1210.7"/><polygon fill="#ffffff" points="1124,1222.3 1148.3,1222.3 1148.3,1241.7 1124,1241.7"/><polygon fill="#ffffff" points="1224,1205.7 1248.3,1205.7 1248.3,1229 1224,1229"/></g><g clip-path="url(#c7)"><polygon fill="#78bde6" points="898.3,838.3 1238.3,838.3 1238.3,1146.7 898.3,1146.7"/><polygon fill="#a5dbf5" points="898.3,838.3 1125,838.3 1126.7,846.7 1125,853.3 1118.3,861.7 1113.3,865 1100,865 1083.3,862.5 1070,860.8 1063.3,858.3 1050,851.7 1041.7,850.3 1026.7,851.7 1020,853.3 1018.3,860 1015,868.3 1010,878.3 1006.7,884.2 995,890 983.3,895 973.3,900 968.3,905 967.5,911.7 963.3,918.3 955,922.5 941.7,925 921.7,925.8 910,923.3 898.3,920"/><polygon fill="#a5dbf5" points="1160,838.3 1166.7,845 1183.3,856.7 1193.3,865 1203.3,873.3 1215,885 1225,887.5 1238.3,886.7 1238.3,838.3"/><polygon fill="#c8e7f8" points="898.3,838.3 956.7,838.3 963.3,846.7 965.8,855 965,861.7 956.7,866.7 948.3,870.8 943.3,876.7 933.3,883.3 921.7,889.2 910,895 898.3,899.2"/><polygon fill="#4f97d2" points="898.3,936.7 916.7,937.5 933.3,937.5 950,938.3 960,941.7 970,948.3 980,951.3 996.7,950.8 1008.3,946.7 1015,941.7 1018.3,933.3 1016.7,925 1016.7,913.3 1020,906.7 1026.7,903 1041.7,902.5 1058.3,902.5 1066.7,903.3 1080,905.8 1086.7,901.7 1096.7,899.2 1113.3,899.7 1125,901.7 1136.7,904.2 1143.3,909.2 1140,915 1150,920 1160,925 1170,928.3 1176.7,935 1178.3,941.7 1175,951.7 1183.3,960 1186.7,966.7 1196.7,968.3 1206.7,960 1216.7,950 1226.7,940 1238.3,930 1238.3,1146.7 898.3,1146.7"/><polygon fill="#306ab1" points="898.3,985 903.3,981.7 906.7,978.3 915,980 923.3,980 930,973.3 931.7,966.7 941.7,965 953.3,965.8 966.7,967.5 976.7,971.7 983.3,975 996.7,975 1006.7,971.7 1016.7,969.2 1031.7,964.2 1041.7,958.3 1050,955 1058.3,951.7 1061.7,943.3 1062.5,935 1066.7,928.3 1075,923.3 1086.7,921.7 1100,922.5 1106.7,920 1111.7,915.8 1118.3,915.8 1130,919.2 1138.3,921.7 1140,928.3 1136.7,933.3 1140,948.3 1150,956.7 1153.3,960 1150,966.7 1156.7,973.3 1163.3,990 1166.7,995 1173.3,990 1183.3,982.5 1200,985.8 1208.3,981.7 1216.7,973.3 1226.7,966.7 1238.3,963.3 1238.3,1146.7 898.3,1146.7"/><polygon fill="#4f97d2" points="898.3,985 903.3,990 910,993.3 916.7,990.8 925,996.7 931.7,1005 936.7,1015 943.3,1023.3 953.3,1030 963.3,1035.8 973.3,1041.7 983.3,1048.3 990.8,1053.3 983.3,1056.7 973.3,1060 963.3,1063.3 950,1062.5 936.7,1065 926.7,1063.3 916.7,1060 906.7,1056.7 898.3,1053.3"/><polygon fill="#306ab1" points="901.7,1002.5 906.7,998.3 915,1003.3 922.5,1009.2 913.3,1010.8 906.7,1006.7"/><polygon fill="#22498d" points="998.3,998.3 1003.3,994.2 1016.7,990.8 1031.7,990.8 1036.7,985 1046.7,980 1050,973.3 1056.7,966.7 1065,963.3 1073.3,956.7 1081.7,948.3 1090,941.7 1098.3,935 1123.3,932.5 1140,935 1140,948.3 1150,955 1153.3,960 1149.2,968.3 1156.7,983.3 1165,988.3 1165,995 1173.3,1005 1183.3,998.3 1191.7,995.8 1201.7,997.5 1215,997.5 1220,990 1226.7,988.3 1238.3,988.3 1238.3,1010 1225,1011.7 1208.3,1015 1191.7,1018.3 1180,1021.7 1166.7,1028.3 1156.7,1035 1148.3,1040 1133.3,1042.5 1116.7,1045 1100,1046.7 1083.3,1044.2 1075,1040 1068.3,1031.7 1065,1026.7 1056.7,1025 1046.7,1020 1033.3,1015 1016.7,1010 1005,1006.7 998.3,1001.7"/><polygon fill="#ffffff" points="1065,966.7 1073.3,966.7 1073.3,953.3 1081.7,953.3 1081.7,947.5 1090,947.5 1090,940.8 1098.3,940.8 1098.3,935 1140,935 1140,953.3 1149.2,953.3 1149.2,971.7 1157.5,971.7 1157.5,984.2 1165,984.2 1165,1003.3 1157.5,1003.3 1157.5,1010 1140,1010 1140,1015.8 1106.7,1015.8 1106.7,1010 1098.3,1010 1098.3,997.5 1090,997.5 1090,991.7 1073.3,991.7 1073.3,984.2 1065,984.2"/><polygon fill="#22498d" points="898.3,1056.7 910,1061.7 921.7,1066.7 933.3,1073.3 946.7,1080 956.7,1086.7 970,1093.3 986.7,1088.3 1000,1085 1016.7,1083.3 1033.3,1082.5 1050,1085 1066.7,1085.8 1083.3,1088.3 1100,1091.7 1113.3,1093.3 1121.7,1098.3 1128.3,1106.7 1131.7,1116.7 1133.3,1126.7 1140,1131.7 1140,1146.7 898.3,1146.7"/><polygon fill="#306ab1" points="953.3,1113.3 960,1109.2 970,1108.3 980,1112.5 983.3,1117.5 980,1123.3 971.7,1125.8 963.3,1123.3 956.7,1120"/><polygon fill="#306ab1" points="898.3,1133.3 916.7,1131.7 923.3,1133.3 921.7,1140 910,1145 898.3,1146.7"/><polygon fill="#4f97d2" points="1005,1072.5 1016.7,1066.7 1030,1062.5 1043.3,1064.2 1050,1070 1048.3,1075 1033.3,1075 1016.7,1073.3"/><polygon fill="#4f97d2" points="1146.7,1065 1156.7,1060 1166.7,1056.7 1183.3,1053.3 1200,1046.7 1213.3,1041.7 1223.3,1045 1230,1051.7 1238.3,1056.7 1238.3,1076.7 1225,1071.7 1213.3,1066.7 1203.3,1061.7 1193.3,1063.3 1183.3,1068.3 1176.7,1076.7 1170,1080.8 1158.3,1080 1150,1075 1146.7,1070"/><polygon fill="#22498d" points="1195.8,1096.7 1200,1092.5 1205,1097.5 1200,1100.8"/><polygon fill="#ffffff" points="1140,1146.7 1140,1129.2 1156.7,1129.2 1156.7,1123.3 1173.3,1123.3 1173.3,1115 1198.3,1115 1198.3,1110.8 1224.2,1110 1231.7,1110 1231.7,1079.2 1238.3,1079.2 1238.3,1146.7"/><polygon fill="#4f97d2" points="1224.2,1110 1231.7,1110 1231.7,1115.8 1224.2,1115.8"/></g><g clip-path="url(#c8)"><polygon fill="#78bde6" points="1234.3,838.3 1574.3,838.3 1574.3,1146.7 1234.3,1146.7"/><polygon fill="#a5dbf5" points="1234.3,838.3 1574.3,838.3 1574.3,850 1544.3,850.3 1519.3,852 1496,853.3 1486,855 1481,865 1466,868.3 1464.3,881.7 1461,895 1444.3,903.3 1429.3,908.3 1419.3,913.3 1407.7,919.2 1394.3,922.5 1382.7,926.7 1376,930.8 1361,934.2 1356,936.7 1349.3,941.7 1339.3,934.2 1324.3,932.5 1319.3,923.3 1314.3,915 1309.3,906.7 1302.7,898.3 1300.2,888.3 1300.2,878.3 1296,875 1286,874.2 1269.3,875.8 1252.7,880 1234.3,885"/><polygon fill="#78bde6" points="1357.7,865 1369.3,862.5 1386,861.3 1402.7,860.3 1419.3,860 1439.3,860.8 1452.7,862.5 1462.7,866.7 1466,873.3 1462.7,890 1438.5,896.7 1434.3,893.3 1427.7,892.5 1411,889.2 1399.3,885 1386,880 1372.7,873.3"/><polygon fill="#4f97d2" points="1234.3,933.3 1246,930.8 1261,930 1274.3,935 1289.3,930.8 1299.3,936.7 1309.3,941.7 1317.7,946.7 1321,953.3 1322.7,960 1336,966.7 1349.3,970 1356,973.3 1358.5,980 1356,985 1349.3,988.3 1345.2,995 1346,1001.7 1351,1006.7 1357.7,1013.3 1346,1008.3 1336,1006.7 1334.3,1010 1337.7,1018.3 1342.7,1028.3 1349.3,1032.5 1362.7,1034.2 1377.7,1036.7 1394.3,1040 1407.7,1044.2 1419.3,1049.2 1421.8,1056.7 1421.8,1146.7 1234.3,1146.7"/><polygon fill="#78bde6" points="1286,966.7 1292.7,964.2 1299.3,965 1305.2,971.7 1302.7,976.7 1297.7,978.3 1289.3,973.3"/><polygon fill="#a5dbf5" points="1381,1026.7 1389.3,1020 1396,1023.3 1399.3,1030 1404.3,1035 1401,1040 1392.7,1039.2 1382.7,1033.3"/><polygon fill="#4f97d2" points="1481,1011.7 1489.3,1006.7 1502.7,1005 1519.3,1007.5 1536,1010 1542.7,1015 1536,1021.7 1519.3,1025 1502.7,1023.3 1486,1019.2"/><polygon fill="#4f97d2" points="1466,1055 1482.7,1040 1494.3,1035.8 1511,1037.5 1532.7,1041.7 1544.3,1048.3 1551,1054.2 1546,1060 1539.3,1066.7 1534.3,1073.3 1531,1080 1466,1080"/><polygon fill="#4f97d2" points="1551,1090 1574.3,1090 1574.3,1146.7 1551,1146.7"/><polygon fill="#306ab1" points="1234.3,963.3 1247.7,959.2 1257.7,963.3 1269.3,971.7 1282.7,975 1291,978.3 1299.3,986.7 1309.3,990 1314.3,991.7 1309.3,996.7 1302.7,1005 1297.7,1015 1296,1023.3 1302.7,1031.7 1307.7,1040 1309.3,1048.3 1316,1051.7 1326,1050.8 1333.5,1053.3 1331,1060 1322.7,1065 1316,1070 1307.7,1073.3 1299.3,1073.3 1234.3,1076.7"/><polygon fill="#306ab1" points="1315.2,970.8 1322.7,967.5 1330.2,972.5 1324.3,982.5 1317.7,978.3"/><polygon fill="#306ab1" points="1377.7,1047.5 1382.7,1044.2 1391,1045.8 1393.5,1051.7 1387.7,1055 1381,1053.3"/><polygon fill="#306ab1" points="1466,1063.3 1472.7,1058.3 1482.7,1056.7 1492.7,1058.3 1506,1065.8 1499.3,1070 1486,1073.3 1472.7,1071.7 1466.8,1068.3"/><polygon fill="#306ab1" points="1374.3,1070.8 1382.7,1068 1392.7,1068.7 1399.3,1071.7"/><polygon fill="#22498d" points="1234.3,988.3 1244.3,986.7 1256,985 1266,981.3 1276,983 1284.3,985 1283.5,995 1274.3,1001.7 1261,1006.7 1246,1009.2 1234.3,1010"/><polygon fill="#22498d" points="1273.5,1021.7 1277.7,1015 1282.7,1014.2 1286,1021.7"/><polygon fill="#ffffff" points="1274.3,1021.7 1299,1021.7 1299,1028 1306.8,1028 1306.8,1060 1281.8,1060 1281.8,1035 1274.3,1035"/><polygon fill="#ffffff" points="1398.5,927.5 1425.2,927.5 1425.2,940.8 1416,940.8 1416,959.7 1407.7,959.7 1407.7,965.8 1398.5,965.8 1398.5,972.5 1382.7,972.5 1382.7,953.3 1391,953.3 1391,935 1398.5,935"/><polygon fill="#ffffff" points="1234.3,1078.3 1249.3,1078.3 1249.3,1085 1257.7,1085 1257.7,1090.8 1266,1090.8 1266,1096.7 1274,1096.7 1274,1078.3 1299,1078.3 1299,1071.7 1316,1071.7 1316,1078.3 1332.7,1078.3 1332.7,1065.8 1349.3,1065.8 1349.3,1060 1366,1060 1366,1065.8 1374.3,1065.8 1374.3,1071.7 1407.7,1071.7 1407.7,1065.8 1416,1065.8 1416,1060 1432.7,1060 1432.7,1053 1457.7,1053 1457.7,1060 1466,1060 1466,1078.3 1475.2,1078.3 1475.2,1085 1482.7,1085 1482.7,1078.3 1508.5,1078.3 1508.5,1090 1516.8,1090 1516.8,1085 1532.7,1085 1532.7,1079.2 1550.2,1079.2 1550.2,1103.3 1558.5,1103.3 1558.5,1109.2 1566.8,1109.2 1566.8,1115 1574.3,1115 1574.3,1146.7 1234.3,1146.7"/><polygon fill="#ffffff" points="1475.2,1053 1491,1053 1491,1065.8 1475.2,1065.8"/><polygon fill="#4f97d2" points="1234.3,1103.3 1241,1103.3 1241,1110 1234.3,1110"/></g><g clip-path="url(#c9)"><polygon fill="#4f97d2" points="1384.7,1096.7 2064.7,1096.7 2064.7,1403.3 1384.7,1403.3"/><polygon fill="#306ab1" points="1568,1113.3 1594.7,1118.3 1614.7,1121.7 1619.7,1130 1614.7,1140 1621.3,1156.7 1634.7,1170 1651.3,1176.7 1658,1190 1658,1200 1648,1213.3 1634.7,1220 1621.3,1223.3 1604.7,1230 1588,1240 1564.7,1246.7 1548,1243.3 1528,1240 1508,1246.7 1488,1233.3 1471.3,1213.3 1488,1186.7 1558,1186.7 1574.7,1166.7 1568,1113.3"/><polygon fill="#22498d" points="1581.3,1170 1594.7,1173.3 1608,1183.3 1609.7,1196.7 1601.3,1190 1588,1180"/><polygon fill="#78bde6" points="1598,1136.7 1603,1133.3 1607.3,1143.3 1604.7,1155 1599.7,1153.3"/><polygon fill="#306ab1" points="1908,1120 1921.3,1113.3 1928,1106.7 1938,1096.7 2064.7,1096.7 2064.7,1146.7 2038,1146.7 2021.3,1153.3 2014.7,1166.7 2004.7,1176.7 1988,1181.7 1961.3,1183.3 1948,1190 1934.7,1196.7 1924.7,1176.7 1918,1153.3 1911.3,1133.3"/><polygon fill="#22498d" points="1981.3,1106.7 1994.7,1101.7 2008,1105 2001.3,1113.3 1988,1114"/><polygon fill="#78bde6" points="1654.7,1133.3 1661.3,1116.7 1664.7,1096.7 1801.3,1096.7 1804.7,1113.3 1801.3,1120 1784.7,1130 1771.3,1131.7 1761.3,1136.7 1758,1150 1748,1156.7 1738,1163.3 1728,1171.7 1718,1166.7 1704.7,1163.3 1701.3,1153.3 1688,1148.3 1681.3,1153.3 1668,1146.7 1658,1140"/><polygon fill="#78bde6" points="1823,1273.3 1834.7,1263.3 1848,1260 1854.7,1246.7 1861.3,1236.7 1881.3,1233.3 1888,1246.7 1891.3,1266.7 1908,1286.7 1894.7,1296.7 1874.7,1303.3 1854.7,1306.7 1838,1300 1824.7,1286.7"/><polygon fill="#78bde6" points="1984.7,1290 1998,1276.7 1994.7,1260 1998,1240 2011.3,1236.7 2024.7,1246.7 2041.3,1260 2051.3,1273.3 2041.3,1290 2028,1300 2008,1300 1991.3,1296.7"/><polygon fill="#78bde6" points="1868,1320 1881.3,1313.3 1908,1308.3 1934.7,1306.7 1943,1313.3 1934.7,1320 1908,1326.7 1881.3,1330 1871.3,1326.7"/><polygon fill="#78bde6" points="1944.7,1253.3 1951.3,1248.3 1958.7,1253.3 1953,1259.3"/><polygon fill="#78bde6" points="1974.7,1270 1984.7,1266.7 1992,1270.7 1984.7,1275"/><polygon fill="#78bde6" points="1531.3,1403.3 1528,1360 1544.7,1346.7 1554.7,1333.3 1558,1320 1574.7,1306.7 1578,1293.3 1581.3,1280 1598,1256.7 1621.3,1250 1651.3,1240 1674.7,1243.3 1704.7,1243.3 1721.3,1253.3 1748,1266.7 1771.3,1283.3 1794.7,1300 1803,1316.7 1801.3,1340 1788,1356.7 1764.7,1370 1748,1376.7 1741.3,1386.7 1738,1403.3"/><polygon fill="#a5dbf5" points="1654.7,1256.7 1664.7,1243.3 1674.7,1246.7 1701.3,1260 1721.3,1263.3 1738,1273.3 1751.3,1293.3 1744.7,1306.7 1734.7,1316.7 1724.7,1336.7 1708,1340 1691.3,1333.3 1684.7,1320 1691.3,1306.7 1694.7,1296.7 1681.3,1286.7 1664.7,1273.3"/><polygon fill="#78bde6" points="1938,1403.3 1941.3,1380 1954.7,1363.3 1974.7,1353.3 2001.3,1346.7 2021.3,1348.3 2041.3,1353.3 2064.7,1356.7 2064.7,1403.3"/><polygon fill="#306ab1" points="1834.7,1366.7 1848,1360 1868,1363.3 1879.7,1375 1864.7,1383.3 1844.7,1381.7"/><polygon fill="#306ab1" points="1908,1223.3 1918,1211.7 1934.7,1213.3 1941.3,1223.3 1931.3,1236.7 1924.7,1253.3 1924.7,1266.7 1914.7,1256.7 1911.3,1240"/><polygon fill="#306ab1" points="2021.3,1326.7 2038,1316.7 2064.7,1313.3 2064.7,1343.3 2041.3,1340"/><polygon fill="#306ab1" points="1551.3,1280 1564.7,1271.7 1584.7,1266.7 1601.3,1265 1621.3,1266.7 1628,1273.3 1618,1281.7 1601.3,1286.7 1584.7,1293.3 1561.3,1286.7"/><polygon fill="#a5dbf5" points="1614.7,1340 1621.3,1337.3 1628.7,1343.3 1623,1346.7"/><polygon fill="#a5dbf5" points="1641.3,1350.7 1651.3,1349.3 1658.7,1356 1648,1356.7"/><polygon fill="#ffffff" points="1558,1096.7 1561.3,1096.7 1561.3,1106.7 1568,1106.7 1568,1115 1574.7,1115 1574.7,1130 1568,1130 1568,1140 1578,1140 1578,1148.3 1583,1148.3 1583,1166.7 1558,1166.7"/></g><g clip-path="url(#c10)"><polygon fill="#78bde6" points="1570.3,838.3 1910.3,838.3 1910.3,1146.7 1570.3,1146.7"/><polygon fill="#a5dbf5" points="1570.3,838.3 1832,838.3 1829.5,850 1827,855 1818.7,863.3 1813.7,868.3 1808.7,876.7 1802,883.3 1793.7,889.2 1783.7,893.3 1772,897.5 1758.7,901.7 1750.3,903.3 1735.3,903.3 1728.7,906.7 1722,910 1708.7,912.5 1698.7,911.3 1688.7,909.2 1678.7,906.7 1673.7,904.2 1668.7,895 1662,884.2 1655.3,873.3 1650.3,865.8 1642,863.3 1630.3,862.5 1598.7,862.5 1588.7,857.5 1577,855.8 1570.3,855.8"/><polygon fill="#4f97d2" points="1667,960 1680.3,958.3 1695.3,955.8 1708.7,954.2 1718.7,950.8 1730.3,945 1742,940 1755.3,935.8 1772,934.7 1788.7,935.3 1805.3,936.7 1817,939.2 1825.3,945 1829.5,953.3 1829.5,963.3 1823.7,970 1813.7,973.3 1802,975 1788.7,978.3 1777,983.3 1769.5,990 1767,998.3 1767,1006.7 1766.2,1026.7 1760.3,1034.2 1750.3,1031.7 1738.7,1026.7 1730.3,1020 1725.3,1015.8 1710.3,1015 1708.7,1016.7 1713.7,1023.3 1715.3,1030 1714.5,1040 1713.7,1056.7 1712,1065 1703.7,1073.3 1697,1080 1688.7,1088.3 1678.7,1095 1667,1100 1662.8,1106.7 1661.2,1120 1658.7,1126.7 1653.7,1135 1658.7,1146.7 1570.3,1146.7 1570.3,1101.7 1578.7,1100.8 1588.7,1096.7 1600.3,1093.3 1612,1090 1620.3,1085 1615.3,1078.3 1608.7,1072.5 1622,1068.3 1632,1064.2 1642,1060 1645.3,1051.7 1647,1041.7 1643.7,1035 1638.7,1028.3 1637,1020 1640.3,1013.3 1648.7,1008.3 1658.7,1007.5 1672,1008.3 1683.7,1006.7 1690.3,1000 1691.2,991.7 1685.3,986.7 1677,985.8 1670.3,985 1665.3,980 1664.5,971.7 1667,965"/><polygon fill="#4f97d2" points="1792,1033.3 1805.3,1030 1822,1027.5 1838.7,1028 1852,1030 1862,1035.8 1872,1039.2 1885.3,1040.8 1893.7,1039.2 1910.3,1035 1910.3,1146.7 1760.3,1146.7 1762,1136.7 1772,1131.7 1783.7,1133.3 1793.7,1126.7 1803.7,1118.3 1805.3,1111.7 1800.3,1103.3 1800.3,1096.7 1807,1090 1805.3,1083.3 1802,1076.7 1803.7,1068.3 1803.7,1060 1800.3,1053.3 1795.3,1046.7 1792,1040"/><polygon fill="#306ab1" points="1834.5,1054.2 1842,1055.8 1852,1056.7 1862,1053.3 1872,1048.3 1882,1045.8 1897,1045.8 1910.3,1038.3 1910.3,1070 1897,1066.7 1885.3,1066.7 1873.7,1070 1872,1075 1875.3,1083.3 1876.2,1090 1870.3,1090.8 1858.7,1086.7 1852,1078.3 1842,1070 1837,1061.7"/><polygon fill="#306ab1" points="1570.3,1120 1580.3,1120 1592,1120.8 1605.3,1119.2 1615.3,1121.7 1619.5,1126.7 1617.8,1135 1613.7,1141.7 1615.3,1146.7 1570.3,1146.7"/><polygon fill="#22498d" points="1570.3,1135 1577,1135.8 1579.5,1141.7 1578.7,1146.7 1570.3,1146.7"/><polygon fill="#ffffff" points="1570.3,1116.7 1574.5,1116.7 1574.5,1128.3 1570.3,1128.3"/><polygon fill="#ffffff" points="1901.2,1047.5 1910.3,1047.5 1910.3,1060 1901.2,1060"/></g><g clip-path="url(#c11)"><polygon fill="#4f97d2" points="1722.3,838.3 2062.3,838.3 2062.3,1146.7 1722.3,1146.7"/><polygon fill="#78bde6" points="1722.3,838.3 1943.2,838.3 1943.2,846.7 1950.7,846.7 1959,852.5 1959.8,860 1968.2,860 1968.2,865.8 1975.7,865.8 1975.7,879.2 1977.3,890 1981.5,900 1982.3,910 1977.3,915.8 1984,916.7 1992.3,911.7 2009,904.2 2014,907.5 2010.7,915 2017.3,923.3 2024,930 2030.7,935 2020.7,936.7 2007.3,936.7 1990.7,937.5 1974,938.3 1965.7,940 1964,943.3 1967.3,948.3 1972.3,953.3 1975.7,963.3 1974.8,978.3 1967.3,980.8 1954,984.2 1944,988.3 1939.8,994.2 1940.7,1000 1945.7,1005.8 1952.3,1010 1959.8,1015 1943.2,1021.7 1918.2,1028.3 1909,1035 1897.3,1040 1722.3,1040"/><polygon fill="#78bde6" points="2062.3,940 2052.3,948.3 2045.7,956.7 2044.8,964.2 2050.7,971.7 2062.3,978.3"/><polygon fill="#306ab1" points="2027.3,1005 2032.3,995 2040.7,993.3 2049,997.5 2062.3,1002.5 2062.3,1023.3 2026.5,1023.3"/><polygon fill="#22498d" points="2042.3,1016.7 2050.7,1012.5 2062.3,1010.8 2062.3,1016.7"/><polygon fill="#306ab1" points="1897.3,1045 1909,1046.7 1909,1066.7 1924,1073.3 1930.7,1090 1932.3,1106.7 1924,1113.3 1912.3,1120 1909,1123.3 1912.3,1133.3 1914,1146.7 2062.3,1146.7 2062.3,1056.7 1897.3,1056.7"/><polygon fill="#22498d" points="1990.7,1066.7 2000.7,1047.5 2009.8,1047.5 2009.8,1060 2018.2,1060 2018.2,1071.7 2051.5,1071.7 2051.5,1060 2062.3,1060 2062.3,1080 2054,1086.7 2044,1095 2034,1103.3 2020.7,1100 2014,1090 2007.3,1081.7 2000.7,1076.7 1994,1073.3"/><polygon fill="#22498d" points="1978.2,1108.3 1987.3,1103.3 1997.3,1100 2007.3,1103.3 2009,1108.3 2000.7,1113.3 1990.7,1115.8 1982.3,1113.3"/><polygon fill="#22498d" points="1977.3,1086.7 1984,1080 1990.7,1078.3 1990.7,1091.7 1980.7,1092.5"/><polygon fill="#ffffff" points="1959.8,838.3 1959.8,860 1968.2,860 1968.2,865.8 1975.7,865.8 1975.7,879.2 1984.8,879.2 1984.8,896.7 2009.8,896.7 2009.8,885 2026.5,885 2026.5,879.2 2062.3,879.2 2062.3,838.3"/><polygon fill="#ffffff" points="1909,838.3 1950.7,838.3 1950.7,840.8 1942.3,840.8 1942.3,847.5 1924,845 1918.2,842.5 1909,840.8"/><polygon fill="#ffffff" points="1900.7,1046.7 1909,1046.7 1909,1035 1918.2,1035 1918.2,1028.3 1943.2,1028.3 1943.2,1021.7 1959.8,1021.7 1959.8,1015.8 1968.2,1015.8 1968.2,1010 1975.7,1010 1975.7,1003.3 1984.8,1003.3 1984.8,997.5 1993.2,997.5 1993.2,990.8 2017.3,990.8 2017.3,1015.8 2026.5,1015.8 2026.5,1021.7 2043.2,1021.7 2043.2,1015.8 2062.3,1015.8 2062.3,1060 2051.5,1060 2051.5,1071.7 2018.2,1071.7 2018.2,1060 2009.8,1060 2009.8,1047.5 2000.7,1047.5 2000.7,1065.8 1984.8,1065.8 1984.8,1060 1975.7,1060 1975.7,1065.8 1909,1065.8 1909,1060 1900.7,1060"/><polygon fill="#ffffff" points="1984.8,1079.2 2000.7,1079.2 2000.7,1090.8 1984.8,1090.8"/></g><g clip-path="url(#c12)"><polygon fill="#4f97d2" points="1448.6,1148.6 1702.3,1148.6 1702.3,1402.3 1448.6,1402.3"/><polygon fill="#306ab1" points="1448.6,1245.5 1455.5,1234.6 1463.6,1223.6 1474.5,1214.1 1482.7,1204.6 1489.6,1193.6 1493.6,1184.1 1496.4,1178.6 1507.3,1178 1520.9,1178.6 1531.8,1183.4 1542.1,1184.1 1542.1,1148.6 1620.5,1148.6 1623.2,1155.5 1625.9,1162.3 1630,1167.7 1635.5,1170.5 1643.7,1173.2 1651.9,1177.3 1655.9,1184.1 1658.7,1190.9 1657.3,1199.1 1654.6,1207.3 1649.1,1212.7 1640.9,1218.2 1631.4,1223.6 1621.8,1227.7 1610.9,1233.2 1600,1238.7 1589.1,1244.1 1578.2,1248.2 1567.3,1250.2 1559.1,1249.6 1549.6,1245.5 1540,1240 1531.8,1238.7 1520.9,1242.7 1511.4,1246.8 1504.6,1250.9 1501.8,1257.7 1507.3,1261.8 1515.5,1267.3 1520.9,1271.4 1526.4,1274.1 1530.5,1279.6 1527.7,1286.4 1523.6,1291.8 1515.5,1294.6 1507.3,1291.8 1496.4,1289.1 1488.2,1286.4 1482.7,1282.3 1475.2,1285 1477.3,1294.6 1474.5,1306.8 1470.5,1319.1 1463.6,1323.2 1452.7,1327.3 1448.6,1343.7"/><polygon fill="#4f97d2" points="1490.2,1248.2 1492.3,1245.5 1495,1247.5 1493.4,1250.9"/><polygon fill="#306ab1" points="1550.9,1280.3 1556.4,1274.1 1565.9,1270 1578.2,1268 1586.4,1267.3 1591.8,1270 1593.9,1273.4 1589.1,1278.2 1582.3,1281.6 1570,1284.3 1559.1,1285 1552.3,1283"/><polygon fill="#22498d" points="1448.6,1205.2 1475.2,1205.2 1475.2,1198 1483.4,1198 1483.4,1192.3 1491.6,1192.3 1491.6,1173.2 1500.5,1173.2 1500.5,1160.2 1516.8,1160.2 1516.8,1167 1525,1167 1525,1173.2 1542.1,1173.2 1542.1,1184.1 1531.8,1183.4 1520.9,1178.6 1507.3,1178 1496.4,1178.6 1493.6,1184.1 1489.6,1193.6 1482.7,1204.6 1474.5,1214.1 1463.6,1223.6 1455.5,1234.6 1448.6,1245.5"/><polygon fill="#22498d" points="1575.2,1167 1583,1167 1586.4,1169.1 1594.6,1175.9 1602.8,1181.4 1609.6,1185.5 1610.9,1190.9 1608.2,1197.1 1604.1,1192.3 1597.3,1186.8 1587.8,1181.4 1580.9,1178.6 1575.2,1178.6"/><polygon fill="#22498d" points="1558.4,1173.2 1575.2,1173.2 1575.2,1178.6 1558.4,1178.6"/><polygon fill="#78bde6" points="1531.8,1257.7 1537.3,1254.3 1544.1,1255 1549.6,1260.5 1544.1,1263.2 1535.9,1263.2"/><polygon fill="#78bde6" points="1598.7,1255 1613.7,1249.6 1627.3,1244.1 1640.9,1238.7 1651.9,1231.8 1658.7,1226.4 1668.2,1225 1676.4,1227.7 1684.6,1231.8 1692.8,1235.9 1702.3,1238.7 1702.3,1402.3 1600,1402.3 1598.7,1392.8 1593.2,1384.6 1586.4,1379.1 1579.6,1373.7 1576.8,1368.2 1572.7,1360 1567.3,1354.6 1559.1,1349.1 1553.7,1343.7 1550.9,1339.6 1553.7,1330 1546.8,1325.9 1556.4,1319.1 1565.9,1312.3 1572.7,1305.5 1579.6,1300 1585,1295.9 1595.9,1291.8 1602.8,1289.1 1610.9,1285 1621.8,1282.3 1628.7,1278.2 1631.4,1272.7 1628.7,1267.3 1623.2,1264.6 1613.7,1261.8 1605.5,1259.1"/><polygon fill="#78bde6" points="1448.6,1402.3 1448.6,1384.6 1455.5,1375 1460.9,1368.2 1466.4,1362.8 1466.4,1354.6 1474.5,1353.2 1485.5,1354.6 1490.9,1360 1490.2,1369.6 1495,1371.6 1504.6,1370.9 1510,1368.2 1515.5,1360 1520.9,1350.5 1525,1345 1529.1,1347.8 1531.8,1353.2 1529.1,1358.7 1533.2,1365.5 1540,1369.6 1546.8,1373.7 1552.3,1381.9 1556.4,1391.4 1559.1,1402.3"/><polygon fill="#a5dbf5" points="1654.6,1255 1662.8,1245.5 1670.9,1242.7 1680.5,1245.5 1690,1250.9 1702.3,1255 1702.3,1294.6 1694.1,1294.6 1687.3,1287.8 1679.1,1280.9 1670.9,1274.1 1662.8,1268.7 1658.7,1264.6 1655.9,1259.1"/><polygon fill="#a5dbf5" points="1684.6,1324.6 1690,1316.4 1696.9,1312.3 1702.3,1310.9 1702.3,1338.2 1692.8,1334.1 1687.3,1330"/><polygon fill="#a5dbf5" points="1613.7,1340.9 1617.8,1337.5 1624.6,1339.6 1628.7,1343.7 1623.2,1346.4 1616.4,1345"/><polygon fill="#a5dbf5" points="1640.9,1351.9 1646.4,1349.8 1654.6,1351.9 1658.7,1355.9 1647.8,1356.2"/><polygon fill="#ffffff" points="1448.6,1148.6 1583,1148.6 1583,1167 1575.2,1167 1575.2,1173.2 1558.4,1173.2 1558.4,1178.6 1567,1178.6 1567,1185.7 1575.2,1185.7 1575.2,1197.7 1550.2,1197.7 1550.2,1192.3 1542.1,1192.3 1542.1,1173.2 1525,1173.2 1525,1167 1516.8,1167 1516.8,1160.2 1500.5,1160.2 1500.5,1173.2 1491.6,1173.2 1491.6,1192.3 1483.4,1192.3 1483.4,1198 1475.2,1198 1475.2,1205.2 1448.6,1205.2"/></g><g clip-path="url(#c13)"><polygon fill="#22498d" points="1198.7,1278.7 1461.8,1278.7 1461.8,1401.2 1198.7,1401.2"/><polygon fill="#306ab1" points="1433.4,1278.7 1461.8,1278.7 1461.8,1327.7 1454.1,1329 1451.5,1338 1450.2,1357.4 1445,1358.7 1438.6,1354.8 1429.6,1354.2 1419.2,1357.4 1406.3,1362.5 1393.4,1369 1387,1374.1 1381.8,1383.2 1378,1389.6 1378,1401.2 1338,1401.2 1335.4,1393.5 1332.8,1389.6 1322.5,1388.3 1309.6,1387 1296.7,1387 1283.8,1387.7 1273.5,1388.3 1268.4,1387 1268.4,1370.3 1277.4,1367.7 1290.3,1367.1 1303.2,1365.8 1313.5,1365.1 1321.2,1370.3 1329,1374.1 1341.9,1374.8 1354.8,1372.9 1365.1,1367.7 1372.8,1361.2 1380.6,1354.8 1385.7,1347.1 1388.3,1340.6 1393.4,1334.2 1401.2,1327.7 1408.9,1321.3 1418,1317.4 1418,1311 1421.8,1304.5 1429.6,1296.8 1432.1,1290.3"/><polygon fill="#306ab1" points="1260,1375.4 1264.5,1374.1 1267.1,1375.4 1267.1,1383.2 1260.6,1383.2"/><polygon fill="#4f97d2" points="1378,1401.2 1378,1389.6 1381.8,1383.2 1387,1374.1 1393.4,1369 1406.3,1362.5 1419.2,1357.4 1429.6,1354.2 1438.6,1354.8 1445,1358.7 1450.2,1357.4 1451.5,1338 1454.1,1329 1461.8,1327.7 1461.8,1401.2"/></g><g clip-path="url(#c14)"><polygon fill="#4f97d2" points="576,1067.8 585.9,1067.8 592.7,1076.7 593.7,1089.4 587.8,1095.3 580,1087.5 576,1077.6"/><polygon fill="#4f97d2" points="544.6,1116.9 558.4,1120.8 568.2,1125.7 573.1,1130 564.3,1130 554.4,1125.7 546.6,1121.8"/></g><g clip-path="url(#c15)"><polygon fill="#22498d" points="758,1078 1162.8,1078 1162.8,1302.2 758,1302.2"/><polygon fill="#306ab1" points="758,1103.8 771.9,1102.2 797.7,1102.8 815.6,1113.7 831.4,1121.7 835.4,1129.6 849.3,1132.6 865.2,1128.6 873.1,1134.6 889,1130.6 902.9,1128.6 923.7,1128.6 922.7,1135.6 914.8,1139.5 906.8,1149.4 896.9,1159.4 887,1169.3 879,1179.2 871.1,1191.1 865.2,1201 853.3,1209 845.3,1218.9 841.3,1232.8 835.4,1232.8 829.4,1226.8 823.5,1218.9 819.5,1209 815.6,1203 809.6,1201 799.7,1197.1 789.8,1197.1 785.8,1199 793.7,1207 791.7,1214.9 783.8,1220.9 775.9,1226.8 767.9,1236.7 764,1244.7 758,1244.7"/><polygon fill="#306ab1" points="906.8,1165.3 910.8,1159.4 918.7,1157.8 924.7,1162.3 926.7,1170.3 922.7,1175.2 914.8,1177.2 907.8,1173.3"/><polygon fill="#306ab1" points="953.5,1114.7 958.4,1109.8 966.3,1108.2 978.3,1112.7 984.2,1117.7 980.2,1124.6 972.3,1126.6 962.4,1122.7"/><polygon fill="#306ab1" points="948.5,1078 950.5,1082 958.4,1087.9 972.3,1094.9 988.2,1088.9 1008,1085 1037.8,1083 1057.6,1086.9 1077.5,1086 1097.3,1088.9 1113.2,1092.9 1125.1,1103.8 1131,1119.7 1137,1127.6 1162.8,1129.6 1162.8,1078"/><polygon fill="#306ab1" points="1146.9,1159.4 1151.9,1158.4 1156.8,1163.3 1162.8,1165.3 1162.8,1191.1 1156.8,1183.2 1150.9,1173.3"/><polygon fill="#306ab1" points="1133,1222.9 1146.9,1214.9 1162.8,1209 1162.8,1230.8 1148.9,1230.8"/><polygon fill="#ffffff" points="1140,1129.6 1162.8,1129.6 1162.8,1159.4 1156.8,1159.4 1156.8,1139.5 1140,1139.5"/><polygon fill="#ffffff" points="1132,1192.1 1148.9,1192.1 1148.9,1211 1132,1211"/><polygon fill="#ffffff" points="1124.1,1222.9 1148.9,1222.9 1148.9,1241.7 1124.1,1241.7"/><polygon fill="#ffffff" points="1156.8,1186.2 1162.8,1186.2 1162.8,1205 1156.8,1205"/></g><g clip-path="url(#c16)"><polygon fill="#a5dbf5" points="1369.3,769.3 1511,769.3 1511,870.7 1369.3,870.7"/><polygon fill="#c8e7f8" points="1369.3,769.3 1451.9,769.3 1446.4,772.8 1439.4,778.3 1432.5,783.9 1425.6,790.1 1418.6,796.4 1411.7,798.5 1404.7,799.2 1397.8,799.9 1387.4,800.9 1369.3,802.3"/><polygon fill="#78bde6" points="1369.3,862.4 1383.9,861.7 1397.8,861 1404.7,860.3 1418.6,860.3 1432.5,861 1446.4,861.7 1460.3,863.1 1467.2,864.4 1476.2,863.1 1481.1,858.9 1488.1,855.4 1495,853.3 1511,853.3 1511,870.7 1369.3,870.7"/></g></g>
<g class="bd"><g clip-path="url(#l0)"><polyline points="329.7,302 341.3,308 373,322.7 401.3,337 431.3,351.3 461.3,367 494.7,383.7 523,397 553,413.7 581.3,426 611.3,441.3 651.3,459.3 652,477 658,477.7 664.7,480.3 679.7,484.7 682,490.3 688,497 694.7,499.7 703,500.3 714.7,498 721.3,502 728,507 734.7,510.3 748,511.3 761.3,513.7 775.7,520.3 776.3,535.3 778,538.7 773,544.7 770.7,550.3 778,555.3 783,558.7 801.3,555.3 821.3,552 838,551 851.3,548.7 874.7,545.3 900,540.7 928,535.3"/><polyline points="838,551 838,648 828,652 828,680.3 823,692 816.3,707 809.7,710.3 798,715.3 794.7,723.7 738,723 698,724.3 658,728 641.3,739.7 628,741.3 594.7,741.3 574.7,739.3 568,737.3 561.3,738.7 556.3,737 546.3,736 538,736.3 529.7,739.3 523,746.3 501.3,749.3 481.3,753.7 461.3,758.7 456.3,763.7 449.7,773.7 428,778.7 414.7,782 408,785.3 404.7,792 404.7,801.3 396.3,801.3 391.3,799.3 383.7,800.3 383,818.7 374.7,818.7 372.3,823.7 361.3,821 341.3,810.3 331.3,817 318.7,824.7 325.3,832 324.7,843.7 311.3,844.3 310.7,848.7 314.7,853.7 309.7,863.7 297,875.3 273,877.7 263,883.7 256.3,885.3 261.3,888.7 264,902 261.3,913"/><polyline points="594.7,741.3 591.3,758.7 594.7,765.3 601.3,768.7 604.7,773.7 604.7,782 608,788.7 616.3,795.3 618,799.7 628,802 638,807 644.7,812 654.7,813 654.7,815.3 641.3,816.3 641.3,828.7 674.7,847.7 686.3,848.7 694.7,848 699.7,843.7 708,845.3 714.7,848.7 716.3,857 706.3,858 708,863.7 714.7,870.3 721.3,875.3 727.3,878.7"/><polyline points="801.3,888.7 801.3,852 814.7,845.3 823,838.7 828,828.7 831.3,810.3 841.3,805.3 851.3,798.7 874.7,796.3 900,797 928,797"/><polyline points="228,575.3 234.7,618.7 238,642 242,670.3 251.3,675.3 259,679.3 256.3,695.3 248,717 211.3,717.7"/></g><g clip-path="url(#l1)"><polyline points="883.3,542.7 900,540.7 931.7,537 960,519.3 990,500.3 1010,488.7 1030,473.7 1056.7,461.3 1086.7,447 1110,436 1126.7,428.7 1153.3,416.3 1166.7,410.3 1186.7,401.3 1210,391.3 1226.7,384.3 1243.3,377 1263.3,368.7 1283.3,359.3 1305,351 1333.3,355.3 1363.3,359.3 1393.3,364.7 1410,372 1425,380.3 1440,389.3 1460,383 1476.7,378 1488.3,374.7 1500,370.3 1523.3,358.7 1550,351.3 1578,362 1600,370.3"/><polyline points="1305,351 1301.7,345.3 1295,337 1286.7,325.3 1281.7,318 1278.3,317 1271.7,318 1260,311.3 1246.7,306 1236.7,303 1230,301.3"/><polyline points="1201.7,301.3 1213.3,305.3 1220,303.3 1228.3,302"/><polyline points="1488.3,374.7 1493.3,398.7 1500,420.3 1500.7,430.3 1499,442.7 1506.7,448.7 1516.7,458.7 1524,467 1522,472 1526.7,478.7 1536.7,487 1545,493.7 1546.7,498 1540,505.3 1533.3,512.7 1531,518.7 1528.3,548.7 1525,568.7 1522.7,585.3 1522,602 1520.7,632 1518.3,652.7 1503.3,663.7 1486.7,675.3 1470,688.7 1456.7,698.7 1440,713.7 1430,725.3 1421.7,735.3 1415,745.3 1410,755.3 1405,762 1399.3,763.7 1396,768.7 1397.3,778.7 1400,785.3"/><polyline points="883.3,802 900,797 915,791.3 933.3,795.3 951.7,801 963.3,802 976.7,810.3 990,823.7 1000,828.7 1008.3,830.3 1020,826.3 1031.7,824.7 1053.3,817 1066.7,818 1086.7,825.3 1098.3,830.3 1111.7,837 1130,839.3 1150,839.3 1163.3,841 1173.3,833.7 1186.7,823.7 1206.7,818.7 1225,815.3 1253.3,813.7 1276.7,815.3 1300,820.3 1316.7,825.3 1330,828.7 1336.7,827 1341.7,822 1350,815.3 1363.3,808.7 1376.7,806 1383.3,800.3 1387.3,798.7"/><polyline points="1380,792 1390,789.3 1400,787 1406.7,789.3 1416.7,793.7 1418.3,800.3 1413.3,805.3 1418.3,812 1425,815.3 1426.7,812 1433.3,810.3 1440,808.7 1436.7,817 1446.7,822 1460,820.3 1473.3,820.3 1486.7,827 1500,831.3 1486.7,833.7 1473.3,835.3 1463.3,837 1460,843.7 1453.3,845.3 1441.7,848 1440,855.3 1433.3,853.7 1423.3,848.7 1418.3,838.7 1416,828.7 1417.3,823.7 1410,827 1403.3,822 1396.7,815.3 1390,805.3 1387.3,798.7 1381.7,795.3 1380,792"/><polyline points="1463.3,842 1473.3,845.3 1480.7,855.3 1483.3,868.7 1488.3,882 1491.7,898.7 1490,935.3"/><polyline points="1440,857 1453.3,861.3 1463.3,865.3 1466.7,875.3 1463.3,892 1461.7,898.7 1446.7,904.7 1433.3,910.3 1416.7,918.7"/></g><g clip-path="url(#l2)"><polyline points="1488.3,374.7 1524.7,358.7 1550.3,352 1578,362 1608,373.7 1638,383.7 1688,402 1738,422 1788,442 1821.3,453.7 1871.3,470.3 1911.3,487 1938,495.3 1961.3,505.3 1998,522 2030.3,532"/><polyline points="2088,510.3 2030.3,510.3 2030.3,706.3 2011.3,705.3 1998,706.3 1991.3,708 1981.3,707.7 1973,710.3 1967.3,715.3 1968.7,723.7 1972,730.3 1968,735.3 1959.7,740.3 1954.7,747 1951.3,753.7 1943,757 1936.3,758.7 1934,763.7 1938,767 1938,773.7 1944.7,775.3 1944.7,778.7 1934.7,782 1924.7,787 1918.7,792 1917,798.7 1919.7,805.3 1924,812.7 1928,814.3 1921.3,820.3 1911.3,825.3 1904.7,832 1902,838.7 1904.7,845.3 1911.3,847.7 1924.7,845.3 1933,848.7 1935.3,855.3 1938,868.7 1941.3,875.3 1948,876 1948,888.7 1951.3,898.7 1961.3,905.3 1969.7,908.7 1969.7,935.3"/></g><g clip-path="url(#l3)"><polyline points="387,1136 394,1150 400.7,1166 414.3,1168 415,1179 414.5,1192 398,1195"/><polyline points="746.3,1089 747.3,1122.3 747.3,1134.7"/><polyline points="681.3,1105.7 676.3,1107.3 678,1119 684.7,1127.3 689.7,1137.3 678.7,1139.7"/><polyline points="614.7,1085.7 618,1095.7 618,1105.7 615.3,1112.3 619.7,1122.3 628,1132.3 641.3,1142.3 648.7,1148.3"/><polyline class="t" points="224.7,1196.7 261.3,1194 294.7,1190.7 341.3,1186.3 361.3,1189 398,1194 414.7,1196.3 434.7,1199.7 448,1204 456.3,1209.7 461.3,1208.3 468,1204 484.7,1197.3 504.7,1192.3 518,1188.3 534.7,1182.3 548,1177.3 561.3,1173 578,1169 591.3,1165 604.7,1162.3 621.3,1161.7 638,1160.7 643,1155.7 648.7,1148.3 668,1143 694.7,1138.3 728,1135.7 748,1134.7 774.7,1134 794.7,1133 821.3,1133 848,1135.7 861.3,1142.3 874.7,1150.7 888,1160.7 904.7,1165"/></g><g clip-path="url(#l4)"><polyline points="324.7,838.3 324.7,845 311.3,845 310.5,850 314.7,853.3 313,859.2 308,865 301.3,871.7 296.3,875.5 288,875.8 278,877 271.3,878.7 264.7,882.5 260.5,885 256.3,885 259.7,887.5 262.2,890 263.8,896.7 264.7,906.7 263,911.7 258,915.8 251.3,920.8 250.5,925 252.7,930 250.5,935 250.5,943.3 247.2,947.5 238,947.5 226.3,950"/><polyline points="247.2,947.5 251.3,952.5 255.5,955 266.3,955 271.3,957.5 276.3,963.3 283,971.7 289.7,977.5 298,981.7 306.3,983.7 314.7,986.3 323,986.7 323,980 328,978.3 336.3,975.8 344.7,972.5 358,971.3 369.7,971.7 386.3,973.3 393,975.8 397.2,980 399.7,985 404.7,990 411.3,993.3 416.3,994.7 417.2,1000 416.3,1005 413,1007.5 413,1011.7 418,1014.2 421.3,1017.5 424.7,1026.7 428,1036.7 429.7,1051.7 424.7,1054.2 419.7,1058.3 413,1065 408,1071.7 403.8,1080 402.2,1088.3 400.5,1096.7 394.7,1103.3 390.5,1106.7 387.2,1113.3 386,1123.3 387.2,1133.3 390.5,1141.7 393,1148.3"/><polyline points="416.3,994.7 415.5,986.7 413,978.3 412.2,970 412.2,958.3 409.7,953.3 407.2,946.7 403.8,940.8 403.8,936.7 406.3,930.8 409.7,924.2 428,923 461.3,923 484.7,923.3 489.7,921.7 494.7,923 511.3,923.3 539.7,923.3 543,926.7 548,923.3 554.7,920 566.3,915.3"/><polyline class="t" points="249.7,1055.8 244.7,1061.7 241.3,1066.7 236.3,1065.8 234.7,1073.3 233.8,1080 231.3,1086.7 229.7,1091.7 233,1096.7 238,1101.7 246.3,1105 254.7,1108.3 258,1106.7 255.5,1101.7 258,1095 260.5,1086.7 255.5,1081.7 251.3,1078.3 248,1073.3 246.3,1068.3 248,1061.7 249.7,1055.8"/></g><g clip-path="url(#l5)"><polyline points="662.3,838.3 670.7,845 675.7,847.5 694,848 697.3,845.8 704,843.3 710.7,845.8 714.8,848 715.7,853.3 716.5,858 705.7,858.7 706.5,862.5 710.7,866.7 717.3,872.5 724,878.3 726.5,881.7 724.8,886.7 720.7,890.8 714,896.7 707.3,900.8 700.7,903.3 694,902.5 682.3,905 677.3,903.3 670.7,902 664.8,902.5 659,905.8 652.3,910.8 647.3,915 640.7,920 635.7,923 615.7,923.3 614,925 612.3,922.5 597.3,920 584,919.2 570.7,916.7 562.3,915.8"/><polyline points="724,878.3 730.7,877.5 729,875 725.7,870.8 725.7,865 737.3,863.3 745.7,861.3 749,858.8 754.8,858.8 764,865.8 777.3,877.5 784,881.3 792.3,883.7 798.2,889.2 804,888.3 802.3,884.2 800.7,880 801.5,852.5 807.3,849.2 815.7,845 824,838.3"/><polyline points="798.2,889.2 795.7,898.3 793.2,908.3 797.3,913.3 804,918.3 807.3,925 809,933.3 812.3,936.7 814.8,940 812.3,945 810.7,949.2 800.7,950 797.3,953.3 799,956.7 803.2,962.5 799,968.3 794,973.3 790.7,975 785.7,975.8 782.3,978.3 779,983.3 775.7,987.5 771.5,992.5 770.7,996.7 770.7,1001.7 767.3,1006.7 763.2,1009.2 757.3,1010 750.7,1011.7 747.3,1020 745.7,1031.7 744.8,1043.3 745.7,1053.3 744,1063.3 745.7,1073.3 747.3,1083.3 747.3,1098.3 747.3,1115 747.3,1134.2"/><polyline points="635.7,923.3 632.3,930.8 629,938.3 628.2,943.3 628.2,950.8 639,956.7 650.7,962.5 662.3,969.2 663.2,986.7 665.7,997.5 672.3,1005 679,1012.5 679.8,1023.3 680.7,1036.7 680.7,1056.7 681.2,1081.7 681.5,1105 677.3,1105.8 677.7,1113.3 678.2,1121.7 681.5,1126.7 687.3,1133.3 689.3,1138.3 689.3,1140 679,1140.8"/><polyline points="582.3,920 579.8,926.7 576.5,936.7 579,940 585.7,943.3 594,948.3 602.3,953.3 603.2,961.7 602.3,973.3 602.3,985 600.7,990.8 605.7,991.7 612.3,994.2 614.8,997.5 612.3,1005 610.7,1011.7 611.5,1019.2 604,1026.3 609,1031.7 615.7,1035 620.7,1037.5 623.2,1043.3 621.5,1048.3 617.3,1050.8 617.3,1056.7 618.2,1065 617.3,1073.3 613.2,1080 612.3,1083.3 615.7,1086.7 619,1090 620.7,1095 618.2,1103.3 614.8,1110 614,1115 619,1121.7 622.3,1126.7 626.5,1130 634,1133.3 640.7,1135.8 644,1140 649,1148.3"/><polyline class="t" points="657.3,1148.3 680.7,1141.7 697.3,1139.2 714,1137.5 730.7,1135.8 747.3,1134.7 764,1134.2 787.3,1133.3 805.7,1133 822.3,1133.3 839,1135 850.7,1138.3 864,1145 867.3,1148.3"/><polyline class="t" points="785.7,1133.3 787.3,1128.3 794,1125.8 800.7,1124.2 807.3,1123.3 813.2,1124.2 809,1126.7 800.7,1128.3 794,1130.8 787.3,1133.3"/></g><g clip-path="url(#l6)"><polyline points="1140,1142.3 1135,1146.7 1126.7,1152.3 1120,1159 1116.7,1169 1113.3,1179 1106.7,1192.3 1100,1202.3 1096.7,1209"/><polyline points="1173.3,1320.7 1176.7,1326.3 1266.7,1327.3 1266.7,1322.3 1273.3,1320.7 1300,1322.3 1333.3,1323.3 1383.3,1323.3 1385,1326.3 1466.7,1326.3 1483.3,1329 1500,1332.3 1516.7,1334 1533.3,1335.7 1550,1342.3 1553.3,1349 1556.7,1347.3 1553.3,1335.7 1555,1325.7 1563.3,1315.7 1576.7,1302.3"/><polyline points="1266.7,1327.3 1266.7,1384"/><polyline points="1160,1384 1183.3,1389 1200,1385.7 1233.3,1384 1266.7,1384"/><polyline points="1385,1326.3 1380,1335.7 1378.3,1349 1375,1355.7 1380,1362.3 1381.7,1369 1400,1365.7 1416.7,1362.3 1436.7,1362.3 1446.7,1369 1453.3,1379 1456.7,1389 1453.3,1402.3"/><polyline points="1460,1142.3 1456,1146.7 1453.3,1149 1455,1155.7 1463.3,1155.7 1463.3,1172.3 1460,1184 1466.7,1189 1470,1205.7 1473.3,1212.3 1486.7,1219 1493.3,1229 1496.7,1245.7 1510,1259 1523.3,1269 1536.7,1279 1550,1289 1553.3,1302.3 1555,1319 1563.3,1315.7"/><polyline class="t" points="896.7,1159 900,1164 906.7,1175.7 905,1182.3 910,1189 915,1202.3 926.7,1215.7 936.7,1222.3 946.7,1225.7 953.3,1229 966.7,1225.7 983.3,1222.3 1000,1221.7 1016.7,1222.3 1033.3,1220.7 1050,1219 1066.7,1218.3 1080,1215.7 1085,1209 1086.7,1205.7 1096.7,1209 1100,1215.7 1106.7,1214 1113.3,1219 1118.3,1222.3 1120,1229 1126.7,1235.7 1136.7,1239 1146.7,1244 1153.3,1242.3 1163.3,1244 1166.7,1249 1166.7,1259 1173.3,1269 1181.7,1279 1183.3,1285.7 1180,1299 1176.7,1312.3 1175,1322.3 1173.3,1332.3 1170,1342.3 1163.3,1355.7 1153.3,1365.7 1148.3,1375.7 1153.3,1385.7 1160,1389 1161.7,1402.3"/><polyline class="t" points="1091.7,1269 1100,1259 1110,1254 1120,1255.7 1121.7,1262.3 1113.3,1272.3 1106.7,1279 1096.7,1279 1091.7,1274 1091.7,1269"/><polyline class="t" points="1025,1351.7 1030,1349.7 1032.7,1354 1026.7,1355.7 1025,1351.7"/></g><g clip-path="url(#l7)"><polyline points="1135,1146.7 1141.7,1140 1150,1135 1160,1130.8 1168.3,1126.7 1170.8,1121.7 1173.3,1116.7 1180,1113.3 1186.7,1108.3 1190.8,1105.8 1195.8,1105.8 1195.8,1110 1200,1110.8 1213.3,1110.8 1218.3,1108.3 1220,1103.3 1220.8,1099.2 1223.3,1103.3 1230,1105.8 1238.3,1110.8"/></g><g clip-path="url(#l8)"><polyline points="1234.3,1108.7 1236,1110 1242.7,1118.3 1251,1120 1252.7,1126.7 1264.3,1127.5 1271,1126.7 1276,1121.7 1281,1116.7 1281,1111.7 1286,1106.7 1294.3,1102.5 1294.3,1093.3 1297.7,1088.3 1307.7,1080.8 1307.7,1076.7 1312.7,1070 1317.7,1061.7 1319.3,1055 1319.3,1048.3 1321,1040 1329.3,1037.5 1337.7,1032.5 1342.7,1032.5 1352.7,1025 1359.3,1018.3 1361,1013.3 1360.2,996.7 1369.3,990.8 1377.7,990 1381.8,986.7 1382.7,980 1381,973.3 1383.5,965.8 1392.7,960.8 1397.7,953.3 1400.2,941.7 1402.7,935 1408.5,925.8 1416,919.2 1423.5,911.7 1429.3,909.7 1436,910.8 1444.3,906.7 1454.3,902.5 1462.7,899.2 1464.3,893.3 1462.7,890 1465.2,883.3 1467.7,873.3 1466,868.3 1461,863.3 1452.7,860.8 1438.5,859.7 1439.3,855 1437.7,853.3 1441,850 1439.3,846.7"/><polyline points="1462.7,838.3 1464.3,842.5 1474.3,846.7 1477.7,851.7 1479.3,856.7 1482.7,859.2 1481.8,865 1482.7,870.8 1487.7,875 1491,880 1493.5,888.3 1495.2,897.5 1491.8,903.3 1490.2,910 1490.2,920 1491.8,928.3 1493.5,933.3 1496,941.7 1501,948.3 1509.3,956.7 1519.3,965 1529.3,969.2 1519.3,970.8 1509.3,970.8 1496,970 1486,969.7 1476,970.8 1462.7,969.2 1452.7,969.2 1438.5,969.2 1436,974.2 1431,978.3 1429.3,985 1436,990.8 1444.3,996.7 1449.3,1000 1454.3,1008.3 1461,1013.3 1469.3,1019.2 1476,1022.5 1484.3,1025 1492.7,1029.2 1499.3,1031.7 1502.7,1040 1509.3,1050 1514.3,1060 1519.3,1069.2 1523.5,1071.7 1522.7,1080 1516,1084.2 1506,1091.7 1501,1100 1496,1106.7 1489.3,1115 1481,1123.3 1474.3,1133.3 1469.3,1140 1456,1146.7"/><polyline points="1522.7,1080 1532.7,1081.7 1537.7,1084.2 1544.3,1083.3 1552.7,1080 1562.7,1076.7 1574.3,1073.3"/><polyline class="t" points="1416.8,838.3 1418.5,846.7 1424.3,851.7 1429.3,855 1434.3,853 1437.7,855.8 1439.3,859.2"/><polyline class="t" points="1439.3,846.7 1444.3,845.8 1452.7,846.7 1457.7,843.3 1459.3,838.3"/></g><g clip-path="url(#l9)"><polyline points="1559.7,1321.7 1568,1310 1578,1300 1584.7,1266.7 1591.3,1264 1621.3,1261.7 1638,1258.3 1654.7,1260 1674.7,1262.7 1681.3,1266 1684.7,1262.7 1698,1261.7 1704,1260 1708,1246.7 1708,1233.3 1714.7,1223.3 1724.7,1213.3 1738,1201.7 1754.7,1193.3 1771.3,1191.7 1781.3,1195 1788,1198.3 1814.7,1211.7 1818,1220 1824.7,1224 1838,1223.3 1861.3,1228.3 1868,1226.7 1874.7,1230 1888,1229.3 1914.7,1233.3 1928,1236.7 1938,1233.3 1948,1223.3 1954.7,1218.3 1968,1206 1981.3,1210 1994.7,1215 2001.3,1211.7 2011.3,1208.3 2028,1206 2041.3,1201.7 2051.3,1195 2064.7,1192.7"/><polyline points="1704,1260 1708,1273.3 1708,1280 1701.3,1290 1694.7,1296.7 1691.3,1306.7 1681.3,1316.7 1674.7,1326.7 1674.7,1346.7 1673,1356.7 1668,1366.7 1661.3,1376.7 1663,1386.7 1663,1403.3"/></g><g clip-path="url(#l10)"><polyline points="1570.3,1075 1572,1074.2 1582,1066.7 1588.7,1075 1593.7,1079.2 1599.5,1081.7 1608.7,1076.7 1615.3,1075 1628.7,1067.5 1638.7,1064.2 1650.3,1060.8 1663.7,1060.8 1677,1058.7 1688.7,1058 1706.2,1057.5 1706.7,1053.3 1710.3,1050.8 1718.7,1047.5 1728.7,1038.3 1736.2,1029.2 1728.7,1025 1722.8,1020.8 1725.3,1016.7 1732,1014.2 1747,1013.3 1772,1012.5 1785.3,1010.3 1797,1006.7 1815.3,1007.5 1822.8,1000 1832,996.7 1842.8,990.8 1853.7,979.2 1867,969.2 1872,968.3 1878.7,962.5 1883.7,958.3 1890.3,957.5 1894.5,953.3 1893.7,945 1896.2,936.7 1898.7,931.7 1910.3,928"/><polyline points="1902,838.3 1902.8,843.3 1905.3,846.7 1910.3,847.5"/></g><g clip-path="url(#l11)"><polyline points="1902.3,838.3 1904,845 1909,847.5 1915.7,845.8 1924,843.3 1932.3,845.8 1936.5,851.7 1934.3,856.7 1936.5,861.7 1938.2,868.3 1939.8,875 1949,875 1947.3,881.7 1944.8,888.3 1944.8,893.3 1949,898.3 1955.7,902.5 1962.3,904.2 1969,904.2 1969,913.3 1967.3,920 1964.8,925.8"/><polyline points="1890.7,933.3 1899,930.8 1907.3,928.3 1922.3,927.5 1934,924.2 1942.3,922.8 1950.7,923.7 1959,925.3 1964.8,925.8"/><polyline points="1964.8,925.8 1967.3,930.8 1972.3,936.7 1980.7,941.7 1989,947.5 1997.3,956.7 2004,965 2009.8,973.3 2011.5,981.7 2010.7,990 2010.3,1000 2007.3,1003.3 2002.3,1005 1999,1008.3 1998.2,1014.2 2005.7,1015 2006.5,1017.5 2003.2,1020.8 2003.2,1026.7 2017.3,1026.7 2030.7,1027.5 2045.7,1029.2 2045.7,1033.3 2042.3,1038.3 2039.8,1042.5 2044,1046.7 2050.7,1048.3 2062.3,1049.2"/></g><g clip-path="url(#l12)"><polyline points="1452.7,1148.6 1455.5,1154.1 1463.6,1155.5 1464.3,1175.9 1458.9,1184.1 1465,1186.8 1469.1,1190.9 1469.1,1210 1474.5,1214.1 1481.4,1216.8 1488.2,1222.3 1492.3,1229.1 1495,1241.4 1496.4,1245.5 1501.8,1253.7 1510,1263.2 1520.9,1272.7 1531.8,1282.3 1538.7,1285 1545.5,1287.8 1550.9,1293.2 1553,1297.3 1553.7,1310.9 1556.4,1317.8 1559.8,1321.8"/><polyline points="1559.8,1321.8 1553.7,1325.9 1552.3,1330 1553.7,1338.2 1555.7,1345 1557.1,1348.4 1550.9,1349.8 1548.2,1346.4 1542.7,1343.7 1534.6,1340.3 1526.4,1338.2 1515.5,1336.9 1508.6,1337.5 1501.8,1335.5 1493.6,1334.1 1485.5,1334.1 1477.3,1332.1 1466.4,1328.7 1456.8,1327.3 1448.6,1327.3"/><polyline points="1559.8,1321.8 1565.9,1316.4 1572.7,1309.6 1578.2,1301.4 1580.9,1287.8 1583,1274.1 1585,1267.3 1590.5,1263.9 1600,1263.9 1613.7,1262.5 1627.3,1259.8 1636.9,1257.7 1647.8,1259.1 1661.4,1261.8 1675,1263.2 1681.9,1266.6 1684.6,1263.2 1694.1,1261.8 1702.3,1260.5"/><polyline points="1702.3,1287.8 1695.5,1294.6 1692.8,1302.8 1690,1309.6 1681.9,1316.4 1675,1325.9 1674.4,1338.2 1673.7,1354.6 1668.2,1368.2 1661.4,1379.1 1660,1384.6 1662.8,1392.8 1663.4,1402.3"/><polyline points="1448.6,1388 1450,1388.7 1456.1,1395.5 1453.4,1402.3"/></g><g clip-path="url(#l13)"><polyline points="1198.7,1327.7 1267.1,1328.4 1268.4,1323.8 1277.4,1321 1290.3,1321.3 1303.2,1322.6 1329,1323.2 1354.8,1323.8 1371.5,1322.6 1385.1,1323.2 1385.7,1326.4 1461.8,1326.4"/><polyline points="1267.1,1328.4 1267.1,1384.5 1198.7,1383.2"/><polyline points="1385.1,1323.2 1385.1,1331.6 1380.6,1335.5 1378,1341.9 1376.7,1349.6 1375.4,1354.8 1380.6,1358.7 1383.1,1362.5 1382.5,1367.7 1378,1369 1385.7,1370.3 1393.4,1368.3 1406.3,1365.1 1419.2,1360.6 1432.1,1361.2 1443.7,1364.5 1448.9,1372.9 1455.4,1383.2 1456.6,1388.3 1452.8,1392.2 1448.9,1396.1 1446.3,1401.2"/></g><g clip-path="url(#l14)"><polyline class="lk" points="479.3,1031.5 487.7,1030 492.6,1026.1 498.5,1024.6 503.4,1028.1 511.2,1029 519.1,1028.1 525,1031.5 530.9,1037.4 537.7,1043.3 544.6,1048.2 551.5,1052.1 558.4,1053.1 564.3,1054.1 571.1,1058 575.1,1063.9 578,1069.8 584.9,1069.8"/><polyline class="lk" points="513.2,1010.9 512.2,1016.8 515.2,1021.7 519.1,1024.6"/><polyline class="lk" points="532.8,1026.6 531.9,1030.5 537.7,1031.5 533.8,1035.4"/><polyline class="lk" points="534.8,1055.5 540.7,1054.1 546.6,1053.1 550.5,1052.1"/><polyline class="lk" points="549.5,1060 553.5,1057 558.4,1058 562.3,1057"/><polyline class="lk" points="595.7,1015.8 592.7,1021.7 589.8,1028.5 587.8,1036.4 586.8,1042.3 590.8,1044.3 593.7,1043.3 592.7,1048.2 590.8,1052.1 587.8,1056 585.9,1060.9 584.9,1065.9 584.9,1069.8 587.8,1075.7 590.8,1081.6 591.7,1089.4 590.8,1094.3 586.8,1097.3 585.9,1102.2 585.9,1107.1 582.9,1112 580,1116.9 578,1120.8 574.1,1122.8 568.2,1120.8 560.3,1118.9"/><polyline class="lk" points="541.7,1081.1 548.5,1078.6 556.4,1076.2 564.3,1075.2 569.2,1074.2 572.1,1072.7 576,1074.7 580.9,1079.6 583.9,1083.5 585.9,1089.4 589.8,1093.3"/><polyline class="lk" points="567.2,1082.5 573.1,1081.6 578,1082.5 580,1085.5"/><polyline class="lk" points="538.7,1113.5 544.6,1115.9 550.5,1118.9 556.4,1120.8 563.3,1122.8 568.2,1125.7 573.1,1130 576,1136.5"/><polyline class="lk" points="597.6,1016.8 596.7,1028.5 597.6,1038.4 596.7,1048.2 597.6,1058 597.1,1067.8 597.6,1077.6 596.7,1087.5 597.6,1097.3 597.1,1107.1 596.7,1116.9 597.6,1130 597.1,1141.5"/></g><g clip-path="url(#l15)"><polyline points="1096.3,1208 1105.2,1193.1 1113.2,1181.2 1117.1,1171.3 1118.1,1165.3 1117.1,1161.3 1119.1,1155.4 1127.1,1150.4 1137,1143.5 1146.9,1135.6 1162.8,1127.2"/><polyline class="t" points="758,1134 785.8,1133.6 809.6,1132.2 825.5,1133.2 843.3,1135.2 853.3,1138.5 865.2,1144.5 877.1,1152.4 887,1161.3 891,1167.3 894.9,1173.3 898.9,1177.2 902.9,1181.2 904.8,1187.1 907.8,1193.1 910.8,1199 916.7,1209 924.7,1216.9 934.6,1222.9 944.5,1227.8 952.5,1225.8 958.4,1224.8 966.3,1227.8 978.3,1227.8 988.2,1226.8 1002.1,1225.8 1017.9,1223.8 1037.8,1220.9 1057.6,1218.9 1077.5,1217.9 1083.4,1211.9 1087.4,1209 1097.3,1211 1103.3,1214.9 1113.2,1216.9 1119.1,1218.9 1119.1,1230.8 1125.1,1238.7 1137,1244.7 1148.9,1247.7 1162.8,1244.7"/><polyline class="t" points="889,1161.3 898.9,1157.4 903.8,1155"/><polyline class="t" points="894.9,1171.3 904.8,1167.3 916.7,1169.3"/><polyline class="t" points="902.9,1175.2 914.8,1175.2 922.7,1173.3"/><polyline class="t" points="902.9,1181.2 906.8,1187.1 912.8,1191.1"/><polyline class="t" points="978.3,1220.9 980.2,1228.8"/><polyline class="t" points="988.2,1214.9 990.2,1226.8"/><polyline class="t" points="998.1,1214.9 1002.1,1224.8"/><polyline class="t" points="1008,1211 1016,1222.9 1023.9,1218.9"/><polyline class="t" points="1016,1218.9 1037.8,1218.9"/><polyline class="t" points="1077.5,1203 1085.4,1211"/><polyline class="t" points="1097.3,1207 1097.3,1218.9"/><polyline class="t" points="1107.2,1211 1109.2,1220.9"/><polyline class="t" points="1115.2,1212.9 1117.1,1218.9"/><polyline class="t" points="785.8,1133.6 787.8,1127.6 795.7,1125.2 805.6,1124 813.6,1125.2 807.6,1127.6 799.7,1129.6 789.8,1132.6"/><polyline class="t" points="1091.3,1272.5 1097.3,1268.5 1101.3,1262.5 1103.3,1256.6 1109.2,1254.2 1119.1,1254.6 1122.1,1257.6 1119.1,1262.5 1113.2,1268.5 1109.2,1274.4 1106.2,1279.4 1097.3,1278.4 1091.3,1276.4 1091.3,1272.5"/></g><g clip-path="url(#l16)"><polyline points="1396.4,769.3 1397.8,775.6 1399.2,780.4 1400.6,785.3 1400.9,786.3"/><polyline points="1369.3,807.5 1379,807.5 1382.5,804 1386,800.6 1387.7,799.2"/><polyline points="1438.8,855.4 1438.8,859.6 1442.9,860.3 1449.9,861 1455.4,862.4 1460.3,865.1 1463.8,868.6 1465.8,870.7"/><polyline points="1462.4,837 1462.4,839.4 1462.4,842.2 1467.2,844.3 1471.4,846.4 1474.9,847.1 1476.9,849.9 1478.3,853.3 1478.3,856.8 1481.1,858.2 1482.5,860.3 1483.2,863.8 1482.5,867.2 1481.8,870.7"/><polyline class="t" points="1400.6,786 1403.3,786 1406.1,787.4 1407.5,788.8 1411.7,790.1 1415.1,792.2 1417.9,795 1419,797.8 1419.3,801.2 1417.9,804 1415.1,806.1 1412.4,808.2 1412.4,810.3 1413.8,812.4 1416.5,815.1 1419.3,816.2 1422.8,816.7 1424.9,816.5 1425.6,814.4 1426.9,812.4 1429.7,812 1432.5,812.4 1434.6,811 1437.4,809.6 1440.8,808.5 1441.2,809.9 1439.4,811.7 1438.8,813.8 1440.1,815.8 1440.8,817.9 1439.4,818.6 1437.4,819.3 1436.7,820 1438.8,821.4 1440.8,822.8 1442.9,824.2 1446.4,823.5 1449.9,822.8 1451.9,821.4 1454.7,820 1458.9,819.7 1463.1,819.3 1467.2,819.7 1470.7,820.7 1474.2,821.4 1478.3,822.1 1481.1,822.8 1481.8,824.9 1482.5,827.6 1485.3,829 1489.4,829 1493.6,829.7 1497.8,830.4 1500.6,832.2 1499.2,833.2 1495,833.2 1492.2,833.9 1489.4,834.9 1486.7,835.6 1483.9,836 1478.3,836.7 1474.2,837 1470,836.7 1465.8,837 1462.4,837 1460.3,837.4 1458.9,838.8 1458.2,841.5 1457.5,843.6 1456.1,845.7 1455.4,846.7 1451.9,846.7 1448.5,846 1445,845.3 1442.2,845.7 1440.1,846.4 1440.1,847.8 1442.2,849.2 1442.9,850.6 1441.5,853.3 1440.8,855.4 1439.4,856.1 1438.8,854.7 1437.4,854 1434.6,852.6 1432.5,853 1430.4,854.4 1428.3,854.7 1426.2,853.3 1424.9,851.2 1422.8,849.9 1420.7,848.5 1418.6,847.1 1417.9,845 1417.9,842.2 1417.9,839.4 1418.6,838.8 1418.6,835.3 1417.2,834.6 1418.6,832.5 1420,833.2 1417.9,831.1 1417.2,829.7 1418.6,828.3 1420,826.2 1421.4,825.6 1418.6,826.2 1416.5,827.6 1414.4,828.3 1411.7,829 1408.9,828.3 1406.1,826.2 1404,825.6 1403.3,824.2 1401.2,822.1 1399.2,820 1397.8,817.9 1396.4,816.5 1393.6,815.1 1390.1,813.1 1389.4,811.7 1388.8,808.9 1388.1,804.7 1387.4,800.6 1387.7,798.5 1386.7,797.8 1384.6,797.1 1382.5,796.4 1381.1,795 1380.4,792.9 1380.4,791.5 1382.5,790.1 1386.7,789.1 1390.8,788.4 1395,788.4 1397.8,787.4 1400.6,786.7"/></g></g>
<rect x="228.5" y="302.5" width="1831" height="1098" fill="none" stroke="#000" stroke-opacity="0.62" stroke-width="1"/>
<line x1="194" y1="510.5" x2="228.5" y2="510.5" class="tk"/><text x="183" y="518.4" class="yl">20°N</text><line x1="194" y1="739.5" x2="228.5" y2="739.5" class="tk"/><text x="183" y="747.5" class="yl">15°N</text><line x1="194" y1="968.5" x2="228.5" y2="968.5" class="tk"/><text x="183" y="976.6" class="yl">10°N</text><line x1="194" y1="1197.5" x2="228.5" y2="1197.5" class="tk"/><text x="183" y="1205.7" class="yl">5°N</text><line x1="279.5" y1="1400.5" x2="279.5" y2="1435" class="tk"/><text x="279.5" y="1462.9" class="xl">5°W</text><line x1="581.5" y1="1400.5" x2="581.5" y2="1435" class="tk"/><text x="581.6" y="1462.9" class="xl">0°</text><line x1="883.5" y1="1400.5" x2="883.5" y2="1435" class="tk"/><text x="883.7" y="1462.9" class="xl">5°E</text><line x1="1185.5" y1="1400.5" x2="1185.5" y2="1435" class="tk"/><text x="1185.8" y="1462.9" class="xl">10°E</text><line x1="1487.5" y1="1400.5" x2="1487.5" y2="1435" class="tk"/><text x="1487.9" y="1462.9" class="xl">15°E</text><line x1="1790.5" y1="1400.5" x2="1790.5" y2="1435" class="tk"/><text x="1790.0" y="1462.9" class="xl">20°E</text>
<rect x="322.50" y="1482.5" width="182.56" height="15.0" fill="#ffffff" stroke="#000" stroke-opacity="0.6" stroke-width="1"/><rect x="505.06" y="1482.5" width="182.56" height="15.0" fill="#e6f4fb" stroke="#000" stroke-opacity="0.6" stroke-width="1"/><rect x="687.61" y="1482.5" width="182.56" height="15.0" fill="#c8e7f8" stroke="#000" stroke-opacity="0.6" stroke-width="1"/><rect x="870.17" y="1482.5" width="182.56" height="15.0" fill="#a5dbf5" stroke="#000" stroke-opacity="0.6" stroke-width="1"/><rect x="1052.72" y="1482.5" width="182.56" height="15.0" fill="#78bde6" stroke="#000" stroke-opacity="0.6" stroke-width="1"/><rect x="1235.28" y="1482.5" width="182.56" height="15.0" fill="#4f97d2" stroke="#000" stroke-opacity="0.6" stroke-width="1"/><rect x="1417.83" y="1482.5" width="182.56" height="15.0" fill="#306ab1" stroke="#000" stroke-opacity="0.6" stroke-width="1"/><rect x="1600.39" y="1482.5" width="182.56" height="15.0" fill="#22498d" stroke="#000" stroke-opacity="0.6" stroke-width="1"/><rect x="1782.94" y="1482.5" width="182.56" height="15.0" fill="#1b2a5f" stroke="#000" stroke-opacity="0.6" stroke-width="1"/><text x="505.1" y="1519.8" class="cl">30</text><text x="687.6" y="1519.8" class="cl">40</text><text x="870.2" y="1519.8" class="cl">50</text><text x="1052.7" y="1519.8" class="cl">60</text><text x="1235.3" y="1519.8" class="cl">70</text><text x="1417.8" y="1519.8" class="cl">80</text><text x="1600.4" y="1519.8" class="cl">90</text><text x="1782.9" y="1519.8" class="cl">100</text>
<text transform="translate(1144.3,290.9) scale(1,1.05)" x="0" y="0" class="ti">RH (%), 925hPa, VT : 20180729  03:00</text>
</svg></body></html>
